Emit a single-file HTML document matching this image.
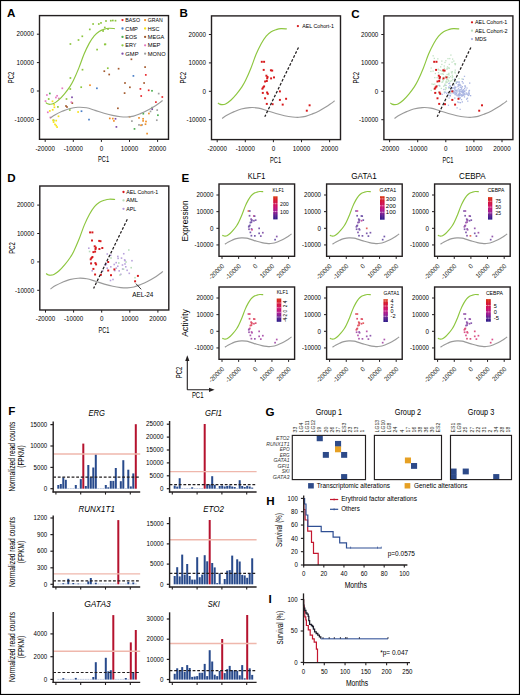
<!DOCTYPE html>
<html><head><meta charset="utf-8"><title>Figure</title>
<style>html,body{margin:0;padding:0;background:#fff;width:520px;height:695px;overflow:hidden;}svg{display:block;font-family:"Liberation Sans", sans-serif;}</style></head>
<body>
<svg width="520" height="695" viewBox="0 0 520 695" font-family='"Liberation Sans", sans-serif'>
<rect x="0" y="0" width="520" height="695" fill="#fff"/>
<g id="A">
<rect x="69.55" y="43.15" width="1.7" height="1.7" fill="#8dc63f"/>
<rect x="77.65" y="39.15" width="1.7" height="1.7" fill="#8dc63f"/>
<rect x="81.45" y="35.45" width="1.7" height="1.7" fill="#8dc63f"/>
<rect x="88.95" y="28.55" width="1.7" height="1.7" fill="#8dc63f"/>
<rect x="92.25" y="23.15" width="1.7" height="1.7" fill="#8dc63f"/>
<rect x="97.95" y="23.15" width="1.7" height="1.7" fill="#8dc63f"/>
<rect x="100.15" y="22.05" width="1.7" height="1.7" fill="#8dc63f"/>
<rect x="96.25" y="48.75" width="1.7" height="1.7" fill="#8dc63f"/>
<rect x="102.25" y="30.15" width="1.7" height="1.7" fill="#8dc63f"/>
<rect x="103.95" y="26.65" width="1.7" height="1.7" fill="#8dc63f"/>
<rect x="103.95" y="43.55" width="1.7" height="1.7" fill="#8dc63f"/>
<rect x="105.15" y="20.15" width="1.7" height="1.7" fill="#8dc63f"/>
<rect x="109.95" y="19.85" width="1.7" height="1.7" fill="#8dc63f"/>
<rect x="111.95" y="19.65" width="1.7" height="1.7" fill="#8dc63f"/>
<rect x="114.65" y="19.85" width="1.7" height="1.7" fill="#8dc63f"/>
<rect x="104.55" y="43.45" width="1.7" height="1.7" fill="#8dc63f"/>
<rect x="106.95" y="67.35" width="1.7" height="1.7" fill="#8dc63f"/>
<rect x="69.45" y="88.15" width="1.7" height="1.7" fill="#8dc63f"/>
<rect x="80.35" y="86.35" width="1.7" height="1.7" fill="#8dc63f"/>
<rect x="107.15" y="28.15" width="1.7" height="1.7" fill="#8dc63f"/>
<rect x="65.65" y="98.15" width="1.7" height="1.7" fill="#8dc63f"/>
<rect x="57.05" y="106.05" width="1.7" height="1.7" fill="#8dc63f"/>
<rect x="68.95" y="109.15" width="1.7" height="1.7" fill="#8dc63f"/>
<rect x="47.85" y="98.15" width="1.7" height="1.7" fill="#8dc63f"/>
<rect x="69.55" y="77.15" width="1.7" height="1.7" fill="#8dc63f"/>
<rect x="81.65" y="68.85" width="1.7" height="1.7" fill="#8dc63f"/>
<rect x="130.55" y="58.45" width="1.7" height="1.7" fill="#a35a2e"/>
<rect x="117.75" y="67.85" width="1.7" height="1.7" fill="#a35a2e"/>
<rect x="103.45" y="70.35" width="1.7" height="1.7" fill="#a35a2e"/>
<rect x="108.35" y="73.65" width="1.7" height="1.7" fill="#a35a2e"/>
<rect x="144.25" y="66.25" width="1.7" height="1.7" fill="#a35a2e"/>
<rect x="124.15" y="82.15" width="1.7" height="1.7" fill="#a35a2e"/>
<rect x="143.25" y="82.15" width="1.7" height="1.7" fill="#a35a2e"/>
<rect x="129.05" y="86.45" width="1.7" height="1.7" fill="#a35a2e"/>
<rect x="123.75" y="92.25" width="1.7" height="1.7" fill="#a35a2e"/>
<rect x="117.05" y="107.45" width="1.7" height="1.7" fill="#a35a2e"/>
<rect x="65.15" y="105.15" width="1.7" height="1.7" fill="#a35a2e"/>
<rect x="66.15" y="106.15" width="1.7" height="1.7" fill="#a35a2e"/>
<rect x="71.45" y="102.25" width="1.7" height="1.7" fill="#a35a2e"/>
<rect x="144.95" y="74.05" width="1.7" height="1.7" fill="#e8262b"/>
<rect x="139.55" y="88.05" width="1.7" height="1.7" fill="#e8262b"/>
<rect x="147.85" y="89.45" width="1.7" height="1.7" fill="#e8262b"/>
<rect x="140.35" y="95.15" width="1.7" height="1.7" fill="#e8262b"/>
<rect x="161.45" y="96.15" width="1.7" height="1.7" fill="#e8262b"/>
<rect x="155.05" y="101.25" width="1.7" height="1.7" fill="#e8262b"/>
<rect x="132.55" y="75.05" width="1.7" height="1.7" fill="#4a7fc8"/>
<rect x="96.05" y="87.45" width="1.7" height="1.7" fill="#4a7fc8"/>
<rect x="80.65" y="110.35" width="1.7" height="1.7" fill="#4a7fc8"/>
<rect x="88.15" y="118.75" width="1.7" height="1.7" fill="#4a7fc8"/>
<rect x="151.15" y="89.95" width="1.7" height="1.7" fill="#4caf50"/>
<rect x="48.95" y="92.65" width="1.7" height="1.7" fill="#4caf50"/>
<rect x="151.35" y="106.85" width="1.7" height="1.7" fill="#4caf50"/>
<rect x="142.45" y="112.85" width="1.7" height="1.7" fill="#4caf50"/>
<rect x="157.05" y="114.35" width="1.7" height="1.7" fill="#4caf50"/>
<rect x="133.65" y="128.05" width="1.7" height="1.7" fill="#4caf50"/>
<rect x="52.75" y="119.55" width="1.7" height="1.7" fill="#4caf50"/>
<rect x="157.85" y="92.75" width="1.7" height="1.7" fill="#a0a0a0"/>
<rect x="156.35" y="109.25" width="1.7" height="1.7" fill="#a0a0a0"/>
<rect x="149.65" y="110.55" width="1.7" height="1.7" fill="#a0a0a0"/>
<rect x="131.05" y="120.25" width="1.7" height="1.7" fill="#a0a0a0"/>
<rect x="138.15" y="124.05" width="1.7" height="1.7" fill="#a0a0a0"/>
<rect x="141.25" y="124.05" width="1.7" height="1.7" fill="#a0a0a0"/>
<rect x="155.95" y="119.35" width="1.7" height="1.7" fill="#a0a0a0"/>
<rect x="89.15" y="84.35" width="1.7" height="1.7" fill="#f0902a"/>
<rect x="148.05" y="112.65" width="1.7" height="1.7" fill="#f0902a"/>
<rect x="108.95" y="117.55" width="1.7" height="1.7" fill="#f0902a"/>
<rect x="111.95" y="117.75" width="1.7" height="1.7" fill="#f0902a"/>
<rect x="113.05" y="120.05" width="1.7" height="1.7" fill="#f0902a"/>
<rect x="128.75" y="115.95" width="1.7" height="1.7" fill="#f0902a"/>
<rect x="138.15" y="117.05" width="1.7" height="1.7" fill="#f0902a"/>
<rect x="142.25" y="117.95" width="1.7" height="1.7" fill="#f0902a"/>
<rect x="142.25" y="120.05" width="1.7" height="1.7" fill="#f0902a"/>
<rect x="145.15" y="120.65" width="1.7" height="1.7" fill="#f0902a"/>
<rect x="144.65" y="123.35" width="1.7" height="1.7" fill="#f0902a"/>
<rect x="140.15" y="124.45" width="1.7" height="1.7" fill="#f0902a"/>
<rect x="146.25" y="132.75" width="1.7" height="1.7" fill="#f0902a"/>
<rect x="71.15" y="96.45" width="1.7" height="1.7" fill="#7e4ca8"/>
<rect x="151.35" y="108.35" width="1.7" height="1.7" fill="#7e4ca8"/>
<rect x="114.65" y="117.95" width="1.7" height="1.7" fill="#7e4ca8"/>
<rect x="115.55" y="126.05" width="1.7" height="1.7" fill="#7e4ca8"/>
<rect x="61.45" y="87.45" width="1.7" height="1.7" fill="#e57ac0"/>
<rect x="46.05" y="94.15" width="1.7" height="1.7" fill="#e57ac0"/>
<rect x="56.25" y="94.95" width="1.7" height="1.7" fill="#e57ac0"/>
<rect x="55.05" y="96.65" width="1.7" height="1.7" fill="#e57ac0"/>
<rect x="57.95" y="97.65" width="1.7" height="1.7" fill="#e57ac0"/>
<rect x="44.65" y="100.25" width="1.7" height="1.7" fill="#e57ac0"/>
<rect x="70.55" y="101.35" width="1.7" height="1.7" fill="#e57ac0"/>
<rect x="46.95" y="111.45" width="1.7" height="1.7" fill="#e57ac0"/>
<rect x="49.55" y="116.65" width="1.7" height="1.7" fill="#e57ac0"/>
<rect x="51.65" y="100.45" width="1.7" height="1.7" fill="#f7e31a"/>
<rect x="53.35" y="103.95" width="1.7" height="1.7" fill="#f7e31a"/>
<rect x="53.55" y="106.45" width="1.7" height="1.7" fill="#f7e31a"/>
<rect x="48.95" y="110.05" width="1.7" height="1.7" fill="#f7e31a"/>
<rect x="51.85" y="108.95" width="1.7" height="1.7" fill="#f7e31a"/>
<rect x="77.25" y="111.15" width="1.7" height="1.7" fill="#f7e31a"/>
<rect x="57.65" y="115.45" width="1.7" height="1.7" fill="#f7e31a"/>
<rect x="52.35" y="119.35" width="1.7" height="1.7" fill="#f7e31a"/>
<rect x="55.35" y="119.75" width="1.7" height="1.7" fill="#f7e31a"/>
<rect x="52.75" y="121.25" width="1.7" height="1.7" fill="#f7e31a"/>
<rect x="54.15" y="123.55" width="1.7" height="1.7" fill="#f7e31a"/>
<rect x="55.35" y="124.75" width="1.7" height="1.7" fill="#f7e31a"/>
<rect x="56.25" y="126.25" width="1.7" height="1.7" fill="#f7e31a"/>
<path d="M45.8,102.6 C46.1,102.8 46.88,103.52 47.6,103.8 C48.32,104.08 49.1,104.33 50.1,104.3 C51.1,104.27 52.15,104.33 53.6,103.6 C55.05,102.87 56.98,101.53 58.8,99.9 C60.62,98.27 62.65,96.02 64.5,93.8 C66.35,91.58 68.4,88.85 69.9,86.6 C71.4,84.35 72,83.42 73.5,80.3 C75,77.18 77.13,72.28 78.9,67.9 C80.67,63.52 82.38,58.08 84.1,54 C85.82,49.92 87.52,46.43 89.2,43.4 C90.88,40.37 92.53,37.8 94.2,35.8 C95.87,33.8 97.53,32.48 99.2,31.4 C100.87,30.32 102.57,29.82 104.2,29.3 C105.83,28.78 107.23,28.42 109,28.3 C110.77,28.18 113.83,28.55 114.8,28.6" fill="none" stroke="#8dc63f" stroke-width="1.15"/>
<path d="M50.1,118.1 C50.97,117.53 53.28,115.83 55.3,114.7 C57.32,113.57 59.88,112.3 62.2,111.3 C64.52,110.3 66.6,109.37 69.2,108.7 C71.8,108.03 74.92,107.45 77.8,107.3 C80.68,107.15 83.62,107.28 86.5,107.8 C89.38,108.32 92.18,109.5 95.1,110.4 C98.02,111.3 101.1,112.37 104,113.2 C106.9,114.03 109.75,114.82 112.5,115.4 C115.25,115.98 118.08,116.43 120.5,116.7 C122.92,116.97 124.82,117.1 127,117 C129.18,116.9 131.37,116.67 133.6,116.1 C135.83,115.53 138.15,114.52 140.4,113.6 C142.65,112.68 144.87,111.73 147.1,110.6 C149.33,109.47 151.78,108.05 153.8,106.8 C155.82,105.55 157.73,104.15 159.2,103.1 C160.67,102.05 162.03,100.93 162.6,100.5" fill="none" stroke="#9a9a9a" stroke-width="1.15"/>
<line x1="36.9" y1="34.2" x2="39.5" y2="34.2" stroke="#231f20" stroke-width="1"/>
<text x="33.9" y="36.47" font-size="6.6" text-anchor="end" textLength="17.3" lengthAdjust="spacingAndGlyphs">20000</text>
<line x1="36.9" y1="62.6" x2="39.5" y2="62.6" stroke="#231f20" stroke-width="1"/>
<text x="33.9" y="64.87" font-size="6.6" text-anchor="end" textLength="17.3" lengthAdjust="spacingAndGlyphs">10000</text>
<line x1="36.9" y1="91" x2="39.5" y2="91" stroke="#231f20" stroke-width="1"/>
<text x="33.9" y="93.27" font-size="6.6" text-anchor="end" textLength="3.5" lengthAdjust="spacingAndGlyphs">0</text>
<line x1="36.9" y1="119.4" x2="39.5" y2="119.4" stroke="#231f20" stroke-width="1"/>
<text x="33.9" y="121.67" font-size="6.6" text-anchor="end" textLength="19.3" lengthAdjust="spacingAndGlyphs">-10000</text>
<line x1="45.2" y1="139.3" x2="45.2" y2="141.9" stroke="#231f20" stroke-width="1"/>
<text x="45.2" y="150.57" font-size="6.6" text-anchor="middle" textLength="19.3" lengthAdjust="spacingAndGlyphs">-20000</text>
<line x1="73.3" y1="139.3" x2="73.3" y2="141.9" stroke="#231f20" stroke-width="1"/>
<text x="73.3" y="150.57" font-size="6.6" text-anchor="middle" textLength="19.3" lengthAdjust="spacingAndGlyphs">-10000</text>
<line x1="101.4" y1="139.3" x2="101.4" y2="141.9" stroke="#231f20" stroke-width="1"/>
<text x="101.4" y="150.57" font-size="6.6" text-anchor="middle" textLength="3.5" lengthAdjust="spacingAndGlyphs">0</text>
<line x1="129.5" y1="139.3" x2="129.5" y2="141.9" stroke="#231f20" stroke-width="1"/>
<text x="129.5" y="150.57" font-size="6.6" text-anchor="middle" textLength="17.3" lengthAdjust="spacingAndGlyphs">10000</text>
<line x1="157.6" y1="139.3" x2="157.6" y2="141.9" stroke="#231f20" stroke-width="1"/>
<text x="157.6" y="150.57" font-size="6.6" text-anchor="middle" textLength="17.3" lengthAdjust="spacingAndGlyphs">20000</text>
<rect x="39.5" y="15.6" width="129" height="123.7" fill="none" stroke="#231f20" stroke-width="1.4"/>
<text x="103.6" y="162.3" font-size="9" text-anchor="middle" textLength="11" lengthAdjust="spacingAndGlyphs">PC1</text>
<text x="11.2" y="80.55" font-size="9" text-anchor="middle" textLength="11.4" lengthAdjust="spacingAndGlyphs" transform="rotate(-90 11.2 77.45)">PC2</text>
<text x="6.9" y="16.5" font-size="11.6" font-weight="bold" fill="#000">A</text>
<circle cx="122.5" cy="20.1" r="1.15" fill="#e8262b"/>
<text x="125.3" y="22.13" font-size="5.9" textLength="14.7" lengthAdjust="spacingAndGlyphs">BASO</text>
<circle cx="122.5" cy="28.5" r="1.15" fill="#4a7fc8"/>
<text x="125.3" y="30.53" font-size="5.9" textLength="12.6" lengthAdjust="spacingAndGlyphs">CMP</text>
<circle cx="122.5" cy="36.9" r="1.15" fill="#4caf50"/>
<text x="125.3" y="38.93" font-size="5.9" textLength="11.8" lengthAdjust="spacingAndGlyphs">EOS</text>
<circle cx="122.5" cy="45.3" r="1.15" fill="#8dc63f"/>
<text x="125.3" y="47.33" font-size="5.9" textLength="11.2" lengthAdjust="spacingAndGlyphs">ERY</text>
<circle cx="122.5" cy="53.7" r="1.15" fill="#7e4ca8"/>
<text x="125.3" y="55.73" font-size="5.9" textLength="13.2" lengthAdjust="spacingAndGlyphs">GMP</text>
<circle cx="145.1" cy="20.1" r="1.15" fill="#f0902a"/>
<text x="147.8" y="22.13" font-size="5.9" textLength="15" lengthAdjust="spacingAndGlyphs">GRAN</text>
<circle cx="145.1" cy="28.5" r="1.15" fill="#f7e31a"/>
<text x="147.8" y="30.53" font-size="5.9" textLength="11.6" lengthAdjust="spacingAndGlyphs">HSC</text>
<circle cx="145.1" cy="36.9" r="1.15" fill="#a35a2e"/>
<text x="147.8" y="38.93" font-size="5.9" textLength="16.4" lengthAdjust="spacingAndGlyphs">MEGA</text>
<circle cx="145.1" cy="45.3" r="1.15" fill="#e57ac0"/>
<text x="147.8" y="47.33" font-size="5.9" textLength="12.6" lengthAdjust="spacingAndGlyphs">MEP</text>
<circle cx="145.1" cy="53.7" r="1.15" fill="#a0a0a0"/>
<text x="147.8" y="55.73" font-size="5.9" textLength="17.8" lengthAdjust="spacingAndGlyphs">MONO</text>
</g>
<g id="B">
<path d="M217.8,102.9 C218.1,103.1 218.88,103.82 219.6,104.1 C220.32,104.38 221.1,104.63 222.1,104.6 C223.1,104.57 224.15,104.63 225.6,103.9 C227.05,103.17 228.98,101.83 230.8,100.2 C232.62,98.57 234.65,96.32 236.5,94.1 C238.35,91.88 240.4,89.15 241.9,86.9 C243.4,84.65 244,83.72 245.5,80.6 C247,77.48 249.13,72.58 250.9,68.2 C252.67,63.82 254.38,58.38 256.1,54.3 C257.82,50.22 259.52,46.73 261.2,43.7 C262.88,40.67 264.53,38.1 266.2,36.1 C267.87,34.1 269.53,32.78 271.2,31.7 C272.87,30.62 274.57,30.12 276.2,29.6 C277.83,29.08 279.23,28.72 281,28.6 C282.77,28.48 285.83,28.85 286.8,28.9" fill="none" stroke="#8dc63f" stroke-width="1.15"/>
<path d="M222.1,118.4 C222.97,117.83 225.28,116.13 227.3,115 C229.32,113.87 231.88,112.6 234.2,111.6 C236.52,110.6 238.6,109.67 241.2,109 C243.8,108.33 246.92,107.75 249.8,107.6 C252.68,107.45 255.62,107.58 258.5,108.1 C261.38,108.62 264.18,109.8 267.1,110.7 C270.02,111.6 273.1,112.67 276,113.5 C278.9,114.33 281.75,115.12 284.5,115.7 C287.25,116.28 290.08,116.73 292.5,117 C294.92,117.27 296.82,117.4 299,117.3 C301.18,117.2 303.37,116.97 305.6,116.4 C307.83,115.83 310.15,114.82 312.4,113.9 C314.65,112.98 316.87,112.03 319.1,110.9 C321.33,109.77 323.78,108.35 325.8,107.1 C327.82,105.85 329.73,104.45 331.2,103.4 C332.67,102.35 334.03,101.23 334.6,100.8" fill="none" stroke="#9a9a9a" stroke-width="1.15"/>
<rect x="260.82" y="60.82" width="1.96" height="1.96" fill="#d7191c"/>
<rect x="263.12" y="60.82" width="1.96" height="1.96" fill="#d7191c"/>
<rect x="262.72" y="68.92" width="1.96" height="1.96" fill="#d7191c"/>
<rect x="269.92" y="69.32" width="1.96" height="1.96" fill="#d7191c"/>
<rect x="271.22" y="69.62" width="1.96" height="1.96" fill="#d7191c"/>
<rect x="265.42" y="74.72" width="1.96" height="1.96" fill="#d7191c"/>
<rect x="266.52" y="76.02" width="1.96" height="1.96" fill="#d7191c"/>
<rect x="266.22" y="77.42" width="1.96" height="1.96" fill="#d7191c"/>
<rect x="273.02" y="76.42" width="1.96" height="1.96" fill="#d7191c"/>
<rect x="270.12" y="77.42" width="1.96" height="1.96" fill="#d7191c"/>
<rect x="264.12" y="80.52" width="1.96" height="1.96" fill="#d7191c"/>
<rect x="265.82" y="80.02" width="1.96" height="1.96" fill="#d7191c"/>
<rect x="263.12" y="85.42" width="1.96" height="1.96" fill="#d7191c"/>
<rect x="262.22" y="86.42" width="1.96" height="1.96" fill="#d7191c"/>
<rect x="261.42" y="87.72" width="1.96" height="1.96" fill="#d7191c"/>
<rect x="261.82" y="91.92" width="1.96" height="1.96" fill="#d7191c"/>
<rect x="266.12" y="91.52" width="1.96" height="1.96" fill="#d7191c"/>
<rect x="266.82" y="92.82" width="1.96" height="1.96" fill="#d7191c"/>
<rect x="278.92" y="90.42" width="1.96" height="1.96" fill="#d7191c"/>
<rect x="264.12" y="97.32" width="1.96" height="1.96" fill="#d7191c"/>
<rect x="278.92" y="98.92" width="1.96" height="1.96" fill="#d7191c"/>
<rect x="285.12" y="97.82" width="1.96" height="1.96" fill="#d7191c"/>
<rect x="265.82" y="102.92" width="1.96" height="1.96" fill="#d7191c"/>
<rect x="271.62" y="103.22" width="1.96" height="1.96" fill="#d7191c"/>
<rect x="281.72" y="103.62" width="1.96" height="1.96" fill="#d7191c"/>
<rect x="308.62" y="104.32" width="1.96" height="1.96" fill="#d7191c"/>
<rect x="305.82" y="109.72" width="1.96" height="1.96" fill="#d7191c"/>
<line x1="298.5" y1="47.4" x2="264.8" y2="116.7" stroke="#231f20" stroke-width="1.25" stroke-dasharray="2.7 1.7"/>
<line x1="208.9" y1="34.5" x2="211.5" y2="34.5" stroke="#231f20" stroke-width="1"/>
<text x="205.9" y="36.77" font-size="6.6" text-anchor="end" textLength="17.3" lengthAdjust="spacingAndGlyphs">20000</text>
<line x1="208.9" y1="62.9" x2="211.5" y2="62.9" stroke="#231f20" stroke-width="1"/>
<text x="205.9" y="65.17" font-size="6.6" text-anchor="end" textLength="17.3" lengthAdjust="spacingAndGlyphs">10000</text>
<line x1="208.9" y1="91.3" x2="211.5" y2="91.3" stroke="#231f20" stroke-width="1"/>
<text x="205.9" y="93.57" font-size="6.6" text-anchor="end" textLength="3.5" lengthAdjust="spacingAndGlyphs">0</text>
<line x1="208.9" y1="119.7" x2="211.5" y2="119.7" stroke="#231f20" stroke-width="1"/>
<text x="205.9" y="121.97" font-size="6.6" text-anchor="end" textLength="19.3" lengthAdjust="spacingAndGlyphs">-10000</text>
<line x1="217.2" y1="139.6" x2="217.2" y2="142.2" stroke="#231f20" stroke-width="1"/>
<text x="217.2" y="150.87" font-size="6.6" text-anchor="middle" textLength="19.3" lengthAdjust="spacingAndGlyphs">-20000</text>
<line x1="245.3" y1="139.6" x2="245.3" y2="142.2" stroke="#231f20" stroke-width="1"/>
<text x="245.3" y="150.87" font-size="6.6" text-anchor="middle" textLength="19.3" lengthAdjust="spacingAndGlyphs">-10000</text>
<line x1="273.4" y1="139.6" x2="273.4" y2="142.2" stroke="#231f20" stroke-width="1"/>
<text x="273.4" y="150.87" font-size="6.6" text-anchor="middle" textLength="3.5" lengthAdjust="spacingAndGlyphs">0</text>
<line x1="301.5" y1="139.6" x2="301.5" y2="142.2" stroke="#231f20" stroke-width="1"/>
<text x="301.5" y="150.87" font-size="6.6" text-anchor="middle" textLength="17.3" lengthAdjust="spacingAndGlyphs">10000</text>
<line x1="329.6" y1="139.6" x2="329.6" y2="142.2" stroke="#231f20" stroke-width="1"/>
<text x="329.6" y="150.87" font-size="6.6" text-anchor="middle" textLength="17.3" lengthAdjust="spacingAndGlyphs">20000</text>
<rect x="211.5" y="15.9" width="129" height="123.7" fill="none" stroke="#231f20" stroke-width="1.4"/>
<text x="275.6" y="162.6" font-size="9" text-anchor="middle" textLength="11" lengthAdjust="spacingAndGlyphs">PC1</text>
<text x="183.2" y="80.85" font-size="9" text-anchor="middle" textLength="11.4" lengthAdjust="spacingAndGlyphs" transform="rotate(-90 183.2 77.75)">PC2</text>
<text x="179.6" y="17.3" font-size="11.6" font-weight="bold" fill="#000">B</text>
<circle cx="297.9" cy="26.1" r="1.15" fill="#d7191c"/>
<text x="302.3" y="28.13" font-size="5.9" textLength="31.7" lengthAdjust="spacingAndGlyphs">AEL Cohort-1</text>
</g>
<g id="C">
<path d="M390.2,102.9 C390.5,103.1 391.28,103.82 392,104.1 C392.72,104.38 393.5,104.63 394.5,104.6 C395.5,104.57 396.55,104.63 398,103.9 C399.45,103.17 401.38,101.83 403.2,100.2 C405.02,98.57 407.05,96.32 408.9,94.1 C410.75,91.88 412.8,89.15 414.3,86.9 C415.8,84.65 416.4,83.72 417.9,80.6 C419.4,77.48 421.53,72.58 423.3,68.2 C425.07,63.82 426.78,58.38 428.5,54.3 C430.22,50.22 431.92,46.73 433.6,43.7 C435.28,40.67 436.93,38.1 438.6,36.1 C440.27,34.1 441.93,32.78 443.6,31.7 C445.27,30.62 446.97,30.12 448.6,29.6 C450.23,29.08 451.63,28.72 453.4,28.6 C455.17,28.48 458.23,28.85 459.2,28.9" fill="none" stroke="#8dc63f" stroke-width="1.15"/>
<path d="M394.5,118.4 C395.37,117.83 397.68,116.13 399.7,115 C401.72,113.87 404.28,112.6 406.6,111.6 C408.92,110.6 411,109.67 413.6,109 C416.2,108.33 419.32,107.75 422.2,107.6 C425.08,107.45 428.02,107.58 430.9,108.1 C433.78,108.62 436.58,109.8 439.5,110.7 C442.42,111.6 445.5,112.67 448.4,113.5 C451.3,114.33 454.15,115.12 456.9,115.7 C459.65,116.28 462.48,116.73 464.9,117 C467.32,117.27 469.22,117.4 471.4,117.3 C473.58,117.2 475.77,116.97 478,116.4 C480.23,115.83 482.55,114.82 484.8,113.9 C487.05,112.98 489.27,112.03 491.5,110.9 C493.73,109.77 496.18,108.35 498.2,107.1 C500.22,105.85 502.13,104.45 503.6,103.4 C505.07,102.35 506.43,101.23 507,100.8" fill="none" stroke="#9a9a9a" stroke-width="1.15"/>
<rect x="442.56" y="79.98" width="1.3" height="1.3" fill="#c2e2c4"/>
<rect x="442.77" y="70.88" width="1.3" height="1.3" fill="#c2e2c4"/>
<rect x="437.84" y="72" width="1.3" height="1.3" fill="#c2e2c4"/>
<rect x="452.13" y="79.02" width="1.3" height="1.3" fill="#c2e2c4"/>
<rect x="451.61" y="77.09" width="1.3" height="1.3" fill="#c2e2c4"/>
<rect x="447.11" y="76.39" width="1.3" height="1.3" fill="#c2e2c4"/>
<rect x="432.69" y="83.76" width="1.3" height="1.3" fill="#c2e2c4"/>
<rect x="447.89" y="79.84" width="1.3" height="1.3" fill="#c2e2c4"/>
<rect x="432.51" y="55.17" width="1.3" height="1.3" fill="#c2e2c4"/>
<rect x="438.12" y="69.2" width="1.3" height="1.3" fill="#c2e2c4"/>
<rect x="446.49" y="73.84" width="1.3" height="1.3" fill="#c2e2c4"/>
<rect x="448" y="67.29" width="1.3" height="1.3" fill="#c2e2c4"/>
<rect x="446.51" y="78.69" width="1.3" height="1.3" fill="#c2e2c4"/>
<rect x="439.72" y="93.24" width="1.3" height="1.3" fill="#c2e2c4"/>
<rect x="448.25" y="87.52" width="1.3" height="1.3" fill="#c2e2c4"/>
<rect x="440.01" y="66.22" width="1.3" height="1.3" fill="#c2e2c4"/>
<rect x="441.94" y="73.18" width="1.3" height="1.3" fill="#c2e2c4"/>
<rect x="448.77" y="77.08" width="1.3" height="1.3" fill="#c2e2c4"/>
<rect x="441.22" y="63.82" width="1.3" height="1.3" fill="#c2e2c4"/>
<rect x="440.71" y="87.78" width="1.3" height="1.3" fill="#c2e2c4"/>
<rect x="438.69" y="77.04" width="1.3" height="1.3" fill="#c2e2c4"/>
<rect x="447.34" y="57.96" width="1.3" height="1.3" fill="#c2e2c4"/>
<rect x="444.69" y="88.72" width="1.3" height="1.3" fill="#c2e2c4"/>
<rect x="430.25" y="70.81" width="1.3" height="1.3" fill="#c2e2c4"/>
<rect x="443.61" y="65.36" width="1.3" height="1.3" fill="#c2e2c4"/>
<rect x="447.83" y="73.66" width="1.3" height="1.3" fill="#c2e2c4"/>
<rect x="434.1" y="83.46" width="1.3" height="1.3" fill="#c2e2c4"/>
<rect x="449.04" y="84.75" width="1.3" height="1.3" fill="#c2e2c4"/>
<rect x="454.43" y="78.33" width="1.3" height="1.3" fill="#c2e2c4"/>
<rect x="445.18" y="60.06" width="1.3" height="1.3" fill="#c2e2c4"/>
<rect x="448.66" y="67.62" width="1.3" height="1.3" fill="#c2e2c4"/>
<rect x="441.18" y="60.44" width="1.3" height="1.3" fill="#c2e2c4"/>
<rect x="437.58" y="68.51" width="1.3" height="1.3" fill="#c2e2c4"/>
<rect x="434.15" y="76.98" width="1.3" height="1.3" fill="#c2e2c4"/>
<rect x="454.45" y="80.71" width="1.3" height="1.3" fill="#c2e2c4"/>
<rect x="446.85" y="66.25" width="1.3" height="1.3" fill="#c2e2c4"/>
<rect x="436.51" y="85.1" width="1.3" height="1.3" fill="#c2e2c4"/>
<rect x="452.06" y="76.08" width="1.3" height="1.3" fill="#c2e2c4"/>
<rect x="446.07" y="79.13" width="1.3" height="1.3" fill="#c2e2c4"/>
<rect x="455.51" y="81.16" width="1.3" height="1.3" fill="#c2e2c4"/>
<rect x="447.98" y="80.38" width="1.3" height="1.3" fill="#c2e2c4"/>
<rect x="433.37" y="88.45" width="1.3" height="1.3" fill="#c2e2c4"/>
<rect x="451.04" y="80.18" width="1.3" height="1.3" fill="#c2e2c4"/>
<rect x="430.53" y="67.38" width="1.3" height="1.3" fill="#c2e2c4"/>
<rect x="450.25" y="54.43" width="1.3" height="1.3" fill="#c2e2c4"/>
<rect x="443.06" y="85.56" width="1.3" height="1.3" fill="#c2e2c4"/>
<rect x="435.17" y="92.06" width="1.3" height="1.3" fill="#c2e2c4"/>
<rect x="448.21" y="72.7" width="1.3" height="1.3" fill="#c2e2c4"/>
<rect x="446.62" y="81.5" width="1.3" height="1.3" fill="#c2e2c4"/>
<rect x="445.19" y="86.95" width="1.3" height="1.3" fill="#c2e2c4"/>
<rect x="439.72" y="69.79" width="1.3" height="1.3" fill="#c2e2c4"/>
<rect x="451.64" y="74.64" width="1.3" height="1.3" fill="#c2e2c4"/>
<rect x="438.19" y="84.76" width="1.3" height="1.3" fill="#c2e2c4"/>
<rect x="454.61" y="69.46" width="1.3" height="1.3" fill="#c2e2c4"/>
<rect x="434.69" y="72.87" width="1.3" height="1.3" fill="#c2e2c4"/>
<rect x="443.31" y="71.07" width="1.3" height="1.3" fill="#c2e2c4"/>
<rect x="454.18" y="63.05" width="1.3" height="1.3" fill="#c2e2c4"/>
<rect x="453.17" y="60.4" width="1.3" height="1.3" fill="#c2e2c4"/>
<rect x="438.84" y="81.3" width="1.3" height="1.3" fill="#c2e2c4"/>
<rect x="452.25" y="83.8" width="1.3" height="1.3" fill="#c2e2c4"/>
<rect x="446.77" y="75.92" width="1.3" height="1.3" fill="#c2e2c4"/>
<rect x="445.42" y="80.68" width="1.3" height="1.3" fill="#c2e2c4"/>
<rect x="443.12" y="77.4" width="1.3" height="1.3" fill="#c2e2c4"/>
<rect x="448.36" y="74.36" width="1.3" height="1.3" fill="#c2e2c4"/>
<rect x="449.7" y="80.57" width="1.3" height="1.3" fill="#c2e2c4"/>
<rect x="458.42" y="77.92" width="1.3" height="1.3" fill="#c2e2c4"/>
<rect x="441.36" y="70.25" width="1.3" height="1.3" fill="#c2e2c4"/>
<rect x="444.26" y="84.51" width="1.3" height="1.3" fill="#c2e2c4"/>
<rect x="441.99" y="78.59" width="1.3" height="1.3" fill="#c2e2c4"/>
<rect x="436.48" y="77.03" width="1.3" height="1.3" fill="#c2e2c4"/>
<rect x="447.14" y="76.97" width="1.3" height="1.3" fill="#c2e2c4"/>
<rect x="441.33" y="81.56" width="1.3" height="1.3" fill="#c2e2c4"/>
<rect x="446.32" y="68.61" width="1.3" height="1.3" fill="#c2e2c4"/>
<rect x="461.36" y="78.26" width="1.3" height="1.3" fill="#c2e2c4"/>
<rect x="440.47" y="73.26" width="1.3" height="1.3" fill="#c2e2c4"/>
<rect x="442.77" y="73.66" width="1.3" height="1.3" fill="#c2e2c4"/>
<rect x="451.41" y="61.5" width="1.3" height="1.3" fill="#c2e2c4"/>
<rect x="443.88" y="84.84" width="1.3" height="1.3" fill="#c2e2c4"/>
<rect x="450.34" y="90.75" width="1.3" height="1.3" fill="#c2e2c4"/>
<rect x="432.44" y="70.46" width="1.3" height="1.3" fill="#c2e2c4"/>
<rect x="441.96" y="81.21" width="1.3" height="1.3" fill="#c2e2c4"/>
<rect x="451.97" y="58.43" width="1.3" height="1.3" fill="#c2e2c4"/>
<rect x="449.13" y="57.94" width="1.3" height="1.3" fill="#c2e2c4"/>
<rect x="445.58" y="87.49" width="1.3" height="1.3" fill="#c2e2c4"/>
<rect x="443.3" y="76.45" width="1.3" height="1.3" fill="#c2e2c4"/>
<rect x="449.93" y="75.91" width="1.3" height="1.3" fill="#c2e2c4"/>
<rect x="443.73" y="91.22" width="1.3" height="1.3" fill="#c2e2c4"/>
<rect x="451.69" y="71.12" width="1.3" height="1.3" fill="#c2e2c4"/>
<rect x="450.75" y="71.43" width="1.3" height="1.3" fill="#c2e2c4"/>
<rect x="445.28" y="82.11" width="1.3" height="1.3" fill="#c2e2c4"/>
<rect x="445.91" y="81.38" width="1.3" height="1.3" fill="#c2e2c4"/>
<rect x="433.66" y="57.75" width="1.3" height="1.3" fill="#c2e2c4"/>
<rect x="448.65" y="63.76" width="1.3" height="1.3" fill="#c2e2c4"/>
<rect x="437.16" y="58.18" width="1.3" height="1.3" fill="#c2e2c4"/>
<rect x="453.21" y="82.56" width="1.3" height="1.3" fill="#c2e2c4"/>
<rect x="454.66" y="64.03" width="1.3" height="1.3" fill="#c2e2c4"/>
<rect x="444.36" y="61.81" width="1.3" height="1.3" fill="#c2e2c4"/>
<rect x="449.71" y="91.83" width="1.3" height="1.3" fill="#c2e2c4"/>
<rect x="438.12" y="91.51" width="1.3" height="1.3" fill="#c2e2c4"/>
<rect x="451.27" y="72.39" width="1.3" height="1.3" fill="#c2e2c4"/>
<rect x="430.55" y="89.82" width="1.3" height="1.3" fill="#c2e2c4"/>
<rect x="443.68" y="67.72" width="1.3" height="1.3" fill="#c2e2c4"/>
<rect x="447.15" y="78.86" width="1.3" height="1.3" fill="#c2e2c4"/>
<rect x="454.84" y="63.13" width="1.3" height="1.3" fill="#c2e2c4"/>
<rect x="452.3" y="90.71" width="1.3" height="1.3" fill="#c2e2c4"/>
<rect x="454.52" y="72.36" width="1.3" height="1.3" fill="#c2e2c4"/>
<rect x="439.14" y="85.55" width="1.3" height="1.3" fill="#c2e2c4"/>
<rect x="445.16" y="75.72" width="1.3" height="1.3" fill="#c2e2c4"/>
<rect x="454.32" y="71.45" width="1.3" height="1.3" fill="#c2e2c4"/>
<rect x="431.37" y="83.36" width="1.3" height="1.3" fill="#c2e2c4"/>
<rect x="446.57" y="67.63" width="1.3" height="1.3" fill="#c2e2c4"/>
<rect x="444.28" y="83.51" width="1.3" height="1.3" fill="#c2e2c4"/>
<rect x="444.9" y="88.94" width="1.3" height="1.3" fill="#c2e2c4"/>
<rect x="459.04" y="95.03" width="1.3" height="1.3" fill="#a6b2e0"/>
<rect x="466.81" y="97.59" width="1.3" height="1.3" fill="#a6b2e0"/>
<rect x="455.99" y="94.31" width="1.3" height="1.3" fill="#a6b2e0"/>
<rect x="449.97" y="85.47" width="1.3" height="1.3" fill="#a6b2e0"/>
<rect x="449.54" y="95.16" width="1.3" height="1.3" fill="#a6b2e0"/>
<rect x="453.19" y="90.29" width="1.3" height="1.3" fill="#a6b2e0"/>
<rect x="458.39" y="90.22" width="1.3" height="1.3" fill="#a6b2e0"/>
<rect x="456.39" y="91.4" width="1.3" height="1.3" fill="#a6b2e0"/>
<rect x="468.31" y="90.55" width="1.3" height="1.3" fill="#a6b2e0"/>
<rect x="462" y="94.85" width="1.3" height="1.3" fill="#a6b2e0"/>
<rect x="458.36" y="84.68" width="1.3" height="1.3" fill="#a6b2e0"/>
<rect x="456.57" y="95.18" width="1.3" height="1.3" fill="#a6b2e0"/>
<rect x="451.12" y="87.66" width="1.3" height="1.3" fill="#a6b2e0"/>
<rect x="464.39" y="93.92" width="1.3" height="1.3" fill="#a6b2e0"/>
<rect x="459.39" y="93.97" width="1.3" height="1.3" fill="#a6b2e0"/>
<rect x="460.18" y="85.04" width="1.3" height="1.3" fill="#a6b2e0"/>
<rect x="451.53" y="87.47" width="1.3" height="1.3" fill="#a6b2e0"/>
<rect x="463.96" y="87.81" width="1.3" height="1.3" fill="#a6b2e0"/>
<rect x="454.84" y="86.88" width="1.3" height="1.3" fill="#a6b2e0"/>
<rect x="451.69" y="89.82" width="1.3" height="1.3" fill="#a6b2e0"/>
<rect x="453.45" y="91.99" width="1.3" height="1.3" fill="#a6b2e0"/>
<rect x="447.55" y="91.83" width="1.3" height="1.3" fill="#a6b2e0"/>
<rect x="456.14" y="81.61" width="1.3" height="1.3" fill="#a6b2e0"/>
<rect x="462.97" y="89.11" width="1.3" height="1.3" fill="#a6b2e0"/>
<rect x="448.2" y="86.41" width="1.3" height="1.3" fill="#a6b2e0"/>
<rect x="460.81" y="88.29" width="1.3" height="1.3" fill="#a6b2e0"/>
<rect x="463.25" y="93.71" width="1.3" height="1.3" fill="#a6b2e0"/>
<rect x="462.68" y="91.82" width="1.3" height="1.3" fill="#a6b2e0"/>
<rect x="466.02" y="93.32" width="1.3" height="1.3" fill="#a6b2e0"/>
<rect x="461.61" y="80.97" width="1.3" height="1.3" fill="#a6b2e0"/>
<rect x="463.83" y="96.24" width="1.3" height="1.3" fill="#a6b2e0"/>
<rect x="457.87" y="88.24" width="1.3" height="1.3" fill="#a6b2e0"/>
<rect x="469.05" y="82.44" width="1.3" height="1.3" fill="#a6b2e0"/>
<rect x="461.69" y="101.26" width="1.3" height="1.3" fill="#a6b2e0"/>
<rect x="454.71" y="93.45" width="1.3" height="1.3" fill="#a6b2e0"/>
<rect x="468.78" y="89.81" width="1.3" height="1.3" fill="#a6b2e0"/>
<rect x="462.16" y="94.41" width="1.3" height="1.3" fill="#a6b2e0"/>
<rect x="454.82" y="89.95" width="1.3" height="1.3" fill="#a6b2e0"/>
<rect x="460.81" y="94.06" width="1.3" height="1.3" fill="#a6b2e0"/>
<rect x="459.18" y="89.47" width="1.3" height="1.3" fill="#a6b2e0"/>
<rect x="454.27" y="88.73" width="1.3" height="1.3" fill="#a6b2e0"/>
<rect x="463.81" y="90.81" width="1.3" height="1.3" fill="#a6b2e0"/>
<rect x="455.08" y="86.56" width="1.3" height="1.3" fill="#a6b2e0"/>
<rect x="462.54" y="78.68" width="1.3" height="1.3" fill="#a6b2e0"/>
<rect x="462.46" y="92.51" width="1.3" height="1.3" fill="#a6b2e0"/>
<rect x="467.77" y="92.27" width="1.3" height="1.3" fill="#a6b2e0"/>
<rect x="459.01" y="92.7" width="1.3" height="1.3" fill="#a6b2e0"/>
<rect x="449.63" y="95" width="1.3" height="1.3" fill="#a6b2e0"/>
<rect x="460.97" y="87.19" width="1.3" height="1.3" fill="#a6b2e0"/>
<rect x="465.98" y="98.49" width="1.3" height="1.3" fill="#a6b2e0"/>
<rect x="452.34" y="87.35" width="1.3" height="1.3" fill="#a6b2e0"/>
<rect x="460.81" y="91.18" width="1.3" height="1.3" fill="#a6b2e0"/>
<rect x="457.36" y="85.97" width="1.3" height="1.3" fill="#a6b2e0"/>
<rect x="469.95" y="95.02" width="1.3" height="1.3" fill="#a6b2e0"/>
<rect x="453.38" y="84.3" width="1.3" height="1.3" fill="#a6b2e0"/>
<rect x="467.87" y="94.8" width="1.3" height="1.3" fill="#a6b2e0"/>
<rect x="468.45" y="94" width="1.3" height="1.3" fill="#a6b2e0"/>
<rect x="454.99" y="91.52" width="1.3" height="1.3" fill="#a6b2e0"/>
<rect x="448.55" y="86.98" width="1.3" height="1.3" fill="#a6b2e0"/>
<rect x="459.06" y="92.7" width="1.3" height="1.3" fill="#a6b2e0"/>
<rect x="455.71" y="89.79" width="1.3" height="1.3" fill="#a6b2e0"/>
<rect x="461.64" y="92.05" width="1.3" height="1.3" fill="#a6b2e0"/>
<rect x="462.54" y="91.29" width="1.3" height="1.3" fill="#a6b2e0"/>
<rect x="457.73" y="93.9" width="1.3" height="1.3" fill="#a6b2e0"/>
<rect x="459.6" y="86.63" width="1.3" height="1.3" fill="#a6b2e0"/>
<rect x="456.22" y="90.35" width="1.3" height="1.3" fill="#a6b2e0"/>
<rect x="458.8" y="91.06" width="1.3" height="1.3" fill="#a6b2e0"/>
<rect x="459.35" y="91.14" width="1.3" height="1.3" fill="#a6b2e0"/>
<rect x="458.68" y="84.69" width="1.3" height="1.3" fill="#a6b2e0"/>
<rect x="461.46" y="95.09" width="1.3" height="1.3" fill="#a6b2e0"/>
<rect x="461.52" y="89.5" width="1.3" height="1.3" fill="#a6b2e0"/>
<rect x="461.58" y="86" width="1.3" height="1.3" fill="#a6b2e0"/>
<rect x="449.87" y="90.62" width="1.3" height="1.3" fill="#a6b2e0"/>
<rect x="454.7" y="93.68" width="1.3" height="1.3" fill="#a6b2e0"/>
<rect x="453.93" y="78.52" width="1.3" height="1.3" fill="#a6b2e0"/>
<rect x="454.15" y="97.45" width="1.3" height="1.3" fill="#a6b2e0"/>
<rect x="457.44" y="84.19" width="1.3" height="1.3" fill="#a6b2e0"/>
<rect x="455.53" y="92.69" width="1.3" height="1.3" fill="#a6b2e0"/>
<rect x="461.83" y="91.15" width="1.3" height="1.3" fill="#a6b2e0"/>
<rect x="466.77" y="93.53" width="1.3" height="1.3" fill="#a6b2e0"/>
<rect x="459.25" y="93.04" width="1.3" height="1.3" fill="#a6b2e0"/>
<rect x="467.62" y="94.72" width="1.3" height="1.3" fill="#a6b2e0"/>
<rect x="464.47" y="85.48" width="1.3" height="1.3" fill="#a6b2e0"/>
<rect x="458.61" y="93.63" width="1.3" height="1.3" fill="#a6b2e0"/>
<rect x="457.87" y="95.16" width="1.3" height="1.3" fill="#a6b2e0"/>
<rect x="462.33" y="94.44" width="1.3" height="1.3" fill="#a6b2e0"/>
<rect x="458.29" y="101.81" width="1.3" height="1.3" fill="#a6b2e0"/>
<rect x="465.55" y="89.38" width="1.3" height="1.3" fill="#a6b2e0"/>
<rect x="459.8" y="102.03" width="1.3" height="1.3" fill="#a6b2e0"/>
<rect x="457.63" y="94.28" width="1.3" height="1.3" fill="#a6b2e0"/>
<rect x="464.25" y="90.38" width="1.3" height="1.3" fill="#a6b2e0"/>
<rect x="453.51" y="91.19" width="1.3" height="1.3" fill="#a6b2e0"/>
<rect x="461.15" y="95.43" width="1.3" height="1.3" fill="#a6b2e0"/>
<rect x="463.26" y="90.46" width="1.3" height="1.3" fill="#a6b2e0"/>
<rect x="463.62" y="92.78" width="1.3" height="1.3" fill="#a6b2e0"/>
<rect x="460.38" y="90.6" width="1.3" height="1.3" fill="#a6b2e0"/>
<rect x="458.13" y="93.44" width="1.3" height="1.3" fill="#a6b2e0"/>
<rect x="454.08" y="87.52" width="1.3" height="1.3" fill="#a6b2e0"/>
<rect x="459.37" y="83.76" width="1.3" height="1.3" fill="#a6b2e0"/>
<rect x="457.17" y="81.31" width="1.3" height="1.3" fill="#a6b2e0"/>
<rect x="455.94" y="92.91" width="1.3" height="1.3" fill="#a6b2e0"/>
<rect x="462.18" y="90.1" width="1.3" height="1.3" fill="#a6b2e0"/>
<rect x="458.19" y="83.97" width="1.3" height="1.3" fill="#a6b2e0"/>
<rect x="468.49" y="92.67" width="1.3" height="1.3" fill="#a6b2e0"/>
<rect x="464.82" y="86.38" width="1.3" height="1.3" fill="#a6b2e0"/>
<rect x="458.42" y="82.16" width="1.3" height="1.3" fill="#a6b2e0"/>
<rect x="463.25" y="94.56" width="1.3" height="1.3" fill="#a6b2e0"/>
<rect x="449.86" y="90.12" width="1.3" height="1.3" fill="#a6b2e0"/>
<rect x="462.5" y="82.42" width="1.3" height="1.3" fill="#a6b2e0"/>
<rect x="438.83" y="84.89" width="1.3" height="1.3" fill="#b0bbe4"/>
<rect x="449" y="82.53" width="1.3" height="1.3" fill="#b0bbe4"/>
<rect x="454.62" y="94.1" width="1.3" height="1.3" fill="#b0bbe4"/>
<rect x="459.74" y="97.26" width="1.3" height="1.3" fill="#b0bbe4"/>
<rect x="467.12" y="100.5" width="1.3" height="1.3" fill="#b0bbe4"/>
<rect x="443.2" y="88.81" width="1.3" height="1.3" fill="#b0bbe4"/>
<rect x="445.34" y="84.81" width="1.3" height="1.3" fill="#b0bbe4"/>
<rect x="453.66" y="92.39" width="1.3" height="1.3" fill="#b0bbe4"/>
<rect x="458.52" y="81.24" width="1.3" height="1.3" fill="#b0bbe4"/>
<rect x="443.83" y="92.19" width="1.3" height="1.3" fill="#b0bbe4"/>
<rect x="452.65" y="90.17" width="1.3" height="1.3" fill="#b0bbe4"/>
<rect x="453.81" y="87.03" width="1.3" height="1.3" fill="#b0bbe4"/>
<rect x="460.31" y="94.83" width="1.3" height="1.3" fill="#b0bbe4"/>
<rect x="453.6" y="87.65" width="1.3" height="1.3" fill="#b0bbe4"/>
<rect x="446.01" y="92.61" width="1.3" height="1.3" fill="#b0bbe4"/>
<rect x="441.57" y="93.75" width="1.3" height="1.3" fill="#b0bbe4"/>
<rect x="455.6" y="82.71" width="1.3" height="1.3" fill="#b0bbe4"/>
<rect x="452.22" y="90.15" width="1.3" height="1.3" fill="#b0bbe4"/>
<rect x="458.26" y="96.63" width="1.3" height="1.3" fill="#b0bbe4"/>
<rect x="454.04" y="86.39" width="1.3" height="1.3" fill="#b0bbe4"/>
<rect x="453.12" y="91.89" width="1.3" height="1.3" fill="#b0bbe4"/>
<rect x="460.59" y="94.41" width="1.3" height="1.3" fill="#b0bbe4"/>
<rect x="448.21" y="82.87" width="1.3" height="1.3" fill="#b0bbe4"/>
<rect x="451.18" y="87.17" width="1.3" height="1.3" fill="#b0bbe4"/>
<rect x="444.9" y="91.54" width="1.3" height="1.3" fill="#b0bbe4"/>
<rect x="450.18" y="93.09" width="1.3" height="1.3" fill="#b0bbe4"/>
<rect x="458.8" y="89.46" width="1.3" height="1.3" fill="#b0bbe4"/>
<rect x="463.71" y="93.2" width="1.3" height="1.3" fill="#b0bbe4"/>
<rect x="463.84" y="75.72" width="1.3" height="1.3" fill="#b0bbe4"/>
<rect x="447.96" y="94.08" width="1.3" height="1.3" fill="#b0bbe4"/>
<rect x="459.47" y="108.71" width="1.3" height="1.3" fill="#b0bbe4"/>
<rect x="457.09" y="101.31" width="1.3" height="1.3" fill="#b0bbe4"/>
<rect x="460.86" y="98.98" width="1.3" height="1.3" fill="#b0bbe4"/>
<rect x="458.69" y="91.26" width="1.3" height="1.3" fill="#b0bbe4"/>
<rect x="458.68" y="84.8" width="1.3" height="1.3" fill="#b0bbe4"/>
<rect x="464.39" y="85.23" width="1.3" height="1.3" fill="#b0bbe4"/>
<rect x="456.47" y="107.2" width="1.3" height="1.3" fill="#b0bbe4"/>
<rect x="452.45" y="92.49" width="1.3" height="1.3" fill="#b0bbe4"/>
<rect x="464.24" y="92.53" width="1.3" height="1.3" fill="#b0bbe4"/>
<rect x="447.49" y="94.16" width="1.3" height="1.3" fill="#b0bbe4"/>
<rect x="459.3" y="97.32" width="1.3" height="1.3" fill="#b0bbe4"/>
<rect x="447.78" y="104.62" width="1.3" height="1.3" fill="#b0bbe4"/>
<rect x="468.52" y="92.48" width="1.3" height="1.3" fill="#b0bbe4"/>
<rect x="456.63" y="89.35" width="1.3" height="1.3" fill="#b0bbe4"/>
<rect x="466.37" y="87.42" width="1.3" height="1.3" fill="#b0bbe4"/>
<rect x="460.08" y="88.99" width="1.3" height="1.3" fill="#b0bbe4"/>
<rect x="448.45" y="97.38" width="1.3" height="1.3" fill="#b0bbe4"/>
<rect x="465.69" y="92.28" width="1.3" height="1.3" fill="#b0bbe4"/>
<rect x="433.22" y="60.82" width="1.96" height="1.96" fill="#d7191c"/>
<rect x="435.52" y="60.82" width="1.96" height="1.96" fill="#d7191c"/>
<rect x="435.12" y="68.92" width="1.96" height="1.96" fill="#d7191c"/>
<rect x="442.32" y="69.32" width="1.96" height="1.96" fill="#d7191c"/>
<rect x="443.62" y="69.62" width="1.96" height="1.96" fill="#d7191c"/>
<rect x="437.82" y="74.72" width="1.96" height="1.96" fill="#d7191c"/>
<rect x="438.92" y="76.02" width="1.96" height="1.96" fill="#d7191c"/>
<rect x="438.62" y="77.42" width="1.96" height="1.96" fill="#d7191c"/>
<rect x="445.42" y="76.42" width="1.96" height="1.96" fill="#d7191c"/>
<rect x="442.52" y="77.42" width="1.96" height="1.96" fill="#d7191c"/>
<rect x="436.52" y="80.52" width="1.96" height="1.96" fill="#d7191c"/>
<rect x="438.22" y="80.02" width="1.96" height="1.96" fill="#d7191c"/>
<rect x="435.52" y="85.42" width="1.96" height="1.96" fill="#d7191c"/>
<rect x="434.62" y="86.42" width="1.96" height="1.96" fill="#d7191c"/>
<rect x="433.82" y="87.72" width="1.96" height="1.96" fill="#d7191c"/>
<rect x="434.22" y="91.92" width="1.96" height="1.96" fill="#d7191c"/>
<rect x="438.52" y="91.52" width="1.96" height="1.96" fill="#d7191c"/>
<rect x="439.22" y="92.82" width="1.96" height="1.96" fill="#d7191c"/>
<rect x="451.32" y="90.42" width="1.96" height="1.96" fill="#d7191c"/>
<rect x="436.52" y="97.32" width="1.96" height="1.96" fill="#d7191c"/>
<rect x="451.32" y="98.92" width="1.96" height="1.96" fill="#d7191c"/>
<rect x="457.52" y="97.82" width="1.96" height="1.96" fill="#d7191c"/>
<rect x="438.22" y="102.92" width="1.96" height="1.96" fill="#d7191c"/>
<rect x="444.02" y="103.22" width="1.96" height="1.96" fill="#d7191c"/>
<rect x="454.12" y="103.62" width="1.96" height="1.96" fill="#d7191c"/>
<rect x="481.02" y="104.32" width="1.96" height="1.96" fill="#d7191c"/>
<rect x="478.22" y="109.72" width="1.96" height="1.96" fill="#d7191c"/>
<line x1="470.9" y1="47.4" x2="437.2" y2="116.7" stroke="#231f20" stroke-width="1.25" stroke-dasharray="2.7 1.7"/>
<line x1="381.3" y1="34.5" x2="383.9" y2="34.5" stroke="#231f20" stroke-width="1"/>
<text x="378.3" y="36.77" font-size="6.6" text-anchor="end" textLength="17.3" lengthAdjust="spacingAndGlyphs">20000</text>
<line x1="381.3" y1="62.9" x2="383.9" y2="62.9" stroke="#231f20" stroke-width="1"/>
<text x="378.3" y="65.17" font-size="6.6" text-anchor="end" textLength="17.3" lengthAdjust="spacingAndGlyphs">10000</text>
<line x1="381.3" y1="91.3" x2="383.9" y2="91.3" stroke="#231f20" stroke-width="1"/>
<text x="378.3" y="93.57" font-size="6.6" text-anchor="end" textLength="3.5" lengthAdjust="spacingAndGlyphs">0</text>
<line x1="381.3" y1="119.7" x2="383.9" y2="119.7" stroke="#231f20" stroke-width="1"/>
<text x="378.3" y="121.97" font-size="6.6" text-anchor="end" textLength="19.3" lengthAdjust="spacingAndGlyphs">-10000</text>
<line x1="389.6" y1="139.6" x2="389.6" y2="142.2" stroke="#231f20" stroke-width="1"/>
<text x="389.6" y="150.87" font-size="6.6" text-anchor="middle" textLength="19.3" lengthAdjust="spacingAndGlyphs">-20000</text>
<line x1="417.7" y1="139.6" x2="417.7" y2="142.2" stroke="#231f20" stroke-width="1"/>
<text x="417.7" y="150.87" font-size="6.6" text-anchor="middle" textLength="19.3" lengthAdjust="spacingAndGlyphs">-10000</text>
<line x1="445.8" y1="139.6" x2="445.8" y2="142.2" stroke="#231f20" stroke-width="1"/>
<text x="445.8" y="150.87" font-size="6.6" text-anchor="middle" textLength="3.5" lengthAdjust="spacingAndGlyphs">0</text>
<line x1="473.9" y1="139.6" x2="473.9" y2="142.2" stroke="#231f20" stroke-width="1"/>
<text x="473.9" y="150.87" font-size="6.6" text-anchor="middle" textLength="17.3" lengthAdjust="spacingAndGlyphs">10000</text>
<line x1="502" y1="139.6" x2="502" y2="142.2" stroke="#231f20" stroke-width="1"/>
<text x="502" y="150.87" font-size="6.6" text-anchor="middle" textLength="17.3" lengthAdjust="spacingAndGlyphs">20000</text>
<rect x="383.9" y="15.9" width="129" height="123.7" fill="none" stroke="#231f20" stroke-width="1.4"/>
<text x="448" y="162.6" font-size="9" text-anchor="middle" textLength="11" lengthAdjust="spacingAndGlyphs">PC1</text>
<text x="355.6" y="80.85" font-size="9" text-anchor="middle" textLength="11.4" lengthAdjust="spacingAndGlyphs" transform="rotate(-90 355.6 77.75)">PC2</text>
<text x="351.2" y="17.5" font-size="11.6" font-weight="bold" fill="#000">C</text>
<circle cx="472" cy="22.3" r="1.15" fill="#d7191c"/>
<text x="475" y="24.33" font-size="5.9" textLength="32.2" lengthAdjust="spacingAndGlyphs">AEL Cohort-1</text>
<circle cx="472" cy="30.7" r="1.15" fill="#b9dcbc"/>
<text x="475" y="32.73" font-size="5.9" textLength="32.6" lengthAdjust="spacingAndGlyphs">AEL Cohort-2</text>
<circle cx="472" cy="39.1" r="1.15" fill="#a9b4e0"/>
<text x="475" y="41.13" font-size="5.9" textLength="11.6" lengthAdjust="spacingAndGlyphs">MDS</text>
</g>
<g id="D">
<path d="M46.1,273.5 C46.4,273.7 47.18,274.42 47.9,274.7 C48.62,274.98 49.4,275.23 50.4,275.2 C51.4,275.17 52.45,275.23 53.9,274.5 C55.35,273.77 57.28,272.43 59.1,270.8 C60.92,269.17 62.95,266.92 64.8,264.7 C66.65,262.48 68.7,259.75 70.2,257.5 C71.7,255.25 72.3,254.32 73.8,251.2 C75.3,248.08 77.43,243.18 79.2,238.8 C80.97,234.42 82.68,228.98 84.4,224.9 C86.12,220.82 87.82,217.33 89.5,214.3 C91.18,211.27 92.83,208.7 94.5,206.7 C96.17,204.7 97.83,203.38 99.5,202.3 C101.17,201.22 102.87,200.72 104.5,200.2 C106.13,199.68 107.53,199.32 109.3,199.2 C111.07,199.08 114.13,199.45 115.1,199.5" fill="none" stroke="#8dc63f" stroke-width="1.15"/>
<path d="M50.4,289 C51.27,288.43 53.58,286.73 55.6,285.6 C57.62,284.47 60.18,283.2 62.5,282.2 C64.82,281.2 66.9,280.27 69.5,279.6 C72.1,278.93 75.22,278.35 78.1,278.2 C80.98,278.05 83.92,278.18 86.8,278.7 C89.68,279.22 92.48,280.4 95.4,281.3 C98.32,282.2 101.4,283.27 104.3,284.1 C107.2,284.93 110.05,285.72 112.8,286.3 C115.55,286.88 118.38,287.33 120.8,287.6 C123.22,287.87 125.12,288 127.3,287.9 C129.48,287.8 131.67,287.57 133.9,287 C136.13,286.43 138.45,285.42 140.7,284.5 C142.95,283.58 145.17,282.63 147.4,281.5 C149.63,280.37 152.08,278.95 154.1,277.7 C156.12,276.45 158.03,275.05 159.5,274 C160.97,272.95 162.33,271.83 162.9,271.4" fill="none" stroke="#9a9a9a" stroke-width="1.15"/>
<rect x="106.41" y="267.41" width="1.6" height="1.6" fill="#b9a3dc"/>
<rect x="124.16" y="259.84" width="1.6" height="1.6" fill="#b9a3dc"/>
<rect x="105.57" y="263.64" width="1.6" height="1.6" fill="#b9a3dc"/>
<rect x="120.02" y="273.53" width="1.6" height="1.6" fill="#b9a3dc"/>
<rect x="106.47" y="253.21" width="1.6" height="1.6" fill="#b9a3dc"/>
<rect x="121.85" y="268.23" width="1.6" height="1.6" fill="#b9a3dc"/>
<rect x="128.47" y="272.55" width="1.6" height="1.6" fill="#b9a3dc"/>
<rect x="115.39" y="261.87" width="1.6" height="1.6" fill="#b9a3dc"/>
<rect x="109.92" y="254.52" width="1.6" height="1.6" fill="#b9a3dc"/>
<rect x="116.96" y="265.44" width="1.6" height="1.6" fill="#b9a3dc"/>
<rect x="113.44" y="263.67" width="1.6" height="1.6" fill="#b9a3dc"/>
<rect x="118.38" y="270.09" width="1.6" height="1.6" fill="#b9a3dc"/>
<rect x="124.97" y="265.98" width="1.6" height="1.6" fill="#b9a3dc"/>
<rect x="101.88" y="270.16" width="1.6" height="1.6" fill="#b9a3dc"/>
<rect x="104.84" y="262.74" width="1.6" height="1.6" fill="#b9a3dc"/>
<rect x="104.41" y="264.22" width="1.6" height="1.6" fill="#b9a3dc"/>
<rect x="109.97" y="266.02" width="1.6" height="1.6" fill="#b9a3dc"/>
<rect x="122.94" y="252.95" width="1.6" height="1.6" fill="#b9a3dc"/>
<rect x="113.9" y="269.83" width="1.6" height="1.6" fill="#b9a3dc"/>
<rect x="115.46" y="267.35" width="1.6" height="1.6" fill="#b9a3dc"/>
<rect x="117.03" y="255.65" width="1.6" height="1.6" fill="#b9a3dc"/>
<rect x="120.71" y="257.3" width="1.6" height="1.6" fill="#b9a3dc"/>
<rect x="131.17" y="259.91" width="1.6" height="1.6" fill="#b9a3dc"/>
<rect x="121.69" y="264.22" width="1.6" height="1.6" fill="#b9a3dc"/>
<rect x="123.82" y="259.08" width="1.6" height="1.6" fill="#b9a3dc"/>
<rect x="124.19" y="263.15" width="1.6" height="1.6" fill="#b9a3dc"/>
<rect x="126.31" y="269.51" width="1.6" height="1.6" fill="#b9a3dc"/>
<rect x="117.33" y="257.57" width="1.6" height="1.6" fill="#b9a3dc"/>
<rect x="88" y="247.4" width="1.6" height="1.6" fill="#b9a3dc"/>
<rect x="90.4" y="262.2" width="1.6" height="1.6" fill="#b9a3dc"/>
<rect x="91.4" y="270" width="1.6" height="1.6" fill="#b9a3dc"/>
<rect x="109.7" y="279.7" width="1.6" height="1.6" fill="#b9a3dc"/>
<rect x="112.2" y="278.7" width="1.6" height="1.6" fill="#b9a3dc"/>
<rect x="128" y="249.2" width="1.6" height="1.6" fill="#b9dcbc"/>
<rect x="88.8" y="250.7" width="1.6" height="1.6" fill="#b9dcbc"/>
<rect x="130.4" y="266.9" width="1.6" height="1.6" fill="#b9dcbc"/>
<rect x="134.2" y="276.9" width="1.6" height="1.6" fill="#b9dcbc"/>
<rect x="118" y="262.2" width="1.6" height="1.6" fill="#b9dcbc"/>
<rect x="122.7" y="268.4" width="1.6" height="1.6" fill="#b9dcbc"/>
<rect x="110.2" y="257.2" width="1.6" height="1.6" fill="#b9dcbc"/>
<rect x="119.2" y="274.2" width="1.6" height="1.6" fill="#b9dcbc"/>
<rect x="125.2" y="261.2" width="1.6" height="1.6" fill="#b9dcbc"/>
<rect x="89.12" y="231.42" width="1.96" height="1.96" fill="#d7191c"/>
<rect x="91.42" y="231.42" width="1.96" height="1.96" fill="#d7191c"/>
<rect x="91.02" y="239.52" width="1.96" height="1.96" fill="#d7191c"/>
<rect x="98.22" y="239.92" width="1.96" height="1.96" fill="#d7191c"/>
<rect x="99.52" y="240.22" width="1.96" height="1.96" fill="#d7191c"/>
<rect x="93.72" y="245.32" width="1.96" height="1.96" fill="#d7191c"/>
<rect x="94.82" y="246.62" width="1.96" height="1.96" fill="#d7191c"/>
<rect x="94.52" y="248.02" width="1.96" height="1.96" fill="#d7191c"/>
<rect x="101.32" y="247.02" width="1.96" height="1.96" fill="#d7191c"/>
<rect x="98.42" y="248.02" width="1.96" height="1.96" fill="#d7191c"/>
<rect x="92.42" y="251.12" width="1.96" height="1.96" fill="#d7191c"/>
<rect x="94.12" y="250.62" width="1.96" height="1.96" fill="#d7191c"/>
<rect x="91.42" y="256.02" width="1.96" height="1.96" fill="#d7191c"/>
<rect x="90.52" y="257.02" width="1.96" height="1.96" fill="#d7191c"/>
<rect x="89.72" y="258.32" width="1.96" height="1.96" fill="#d7191c"/>
<rect x="90.12" y="262.52" width="1.96" height="1.96" fill="#d7191c"/>
<rect x="94.42" y="262.12" width="1.96" height="1.96" fill="#d7191c"/>
<rect x="95.12" y="263.42" width="1.96" height="1.96" fill="#d7191c"/>
<rect x="107.22" y="261.02" width="1.96" height="1.96" fill="#d7191c"/>
<rect x="92.42" y="267.92" width="1.96" height="1.96" fill="#d7191c"/>
<rect x="107.22" y="269.52" width="1.96" height="1.96" fill="#d7191c"/>
<rect x="113.42" y="268.42" width="1.96" height="1.96" fill="#d7191c"/>
<rect x="94.12" y="273.52" width="1.96" height="1.96" fill="#d7191c"/>
<rect x="99.92" y="273.82" width="1.96" height="1.96" fill="#d7191c"/>
<rect x="110.02" y="274.22" width="1.96" height="1.96" fill="#d7191c"/>
<rect x="136.92" y="274.92" width="1.96" height="1.96" fill="#d7191c"/>
<rect x="134.12" y="280.32" width="1.96" height="1.96" fill="#d7191c"/>
<line x1="127.3" y1="219.3" x2="93.6" y2="288.4" stroke="#231f20" stroke-width="1.25" stroke-dasharray="2.7 1.7"/>
<line x1="135.9" y1="283.6" x2="141.2" y2="289.3" stroke="#231f20" stroke-width="0.9"/>
<text x="142.8" y="297.17" font-size="6.6" text-anchor="middle" textLength="21.2" lengthAdjust="spacingAndGlyphs">AEL-24</text>
<line x1="37.2" y1="205.1" x2="39.8" y2="205.1" stroke="#231f20" stroke-width="1"/>
<text x="34.2" y="207.37" font-size="6.6" text-anchor="end" textLength="17.3" lengthAdjust="spacingAndGlyphs">20000</text>
<line x1="37.2" y1="233.5" x2="39.8" y2="233.5" stroke="#231f20" stroke-width="1"/>
<text x="34.2" y="235.77" font-size="6.6" text-anchor="end" textLength="17.3" lengthAdjust="spacingAndGlyphs">10000</text>
<line x1="37.2" y1="261.9" x2="39.8" y2="261.9" stroke="#231f20" stroke-width="1"/>
<text x="34.2" y="264.17" font-size="6.6" text-anchor="end" textLength="3.5" lengthAdjust="spacingAndGlyphs">0</text>
<line x1="37.2" y1="290.3" x2="39.8" y2="290.3" stroke="#231f20" stroke-width="1"/>
<text x="34.2" y="292.57" font-size="6.6" text-anchor="end" textLength="19.3" lengthAdjust="spacingAndGlyphs">-10000</text>
<line x1="45.5" y1="310" x2="45.5" y2="312.6" stroke="#231f20" stroke-width="1"/>
<text x="45.5" y="321.27" font-size="6.6" text-anchor="middle" textLength="19.3" lengthAdjust="spacingAndGlyphs">-20000</text>
<line x1="73.6" y1="310" x2="73.6" y2="312.6" stroke="#231f20" stroke-width="1"/>
<text x="73.6" y="321.27" font-size="6.6" text-anchor="middle" textLength="19.3" lengthAdjust="spacingAndGlyphs">-10000</text>
<line x1="101.7" y1="310" x2="101.7" y2="312.6" stroke="#231f20" stroke-width="1"/>
<text x="101.7" y="321.27" font-size="6.6" text-anchor="middle" textLength="3.5" lengthAdjust="spacingAndGlyphs">0</text>
<line x1="129.8" y1="310" x2="129.8" y2="312.6" stroke="#231f20" stroke-width="1"/>
<text x="129.8" y="321.27" font-size="6.6" text-anchor="middle" textLength="17.3" lengthAdjust="spacingAndGlyphs">10000</text>
<line x1="157.9" y1="310" x2="157.9" y2="312.6" stroke="#231f20" stroke-width="1"/>
<text x="157.9" y="321.27" font-size="6.6" text-anchor="middle" textLength="17.3" lengthAdjust="spacingAndGlyphs">20000</text>
<rect x="39.8" y="186" width="129" height="124" fill="none" stroke="#231f20" stroke-width="1.4"/>
<text x="103.9" y="333" font-size="9" text-anchor="middle" textLength="11" lengthAdjust="spacingAndGlyphs">PC1</text>
<text x="11.5" y="251.1" font-size="9" text-anchor="middle" textLength="11.4" lengthAdjust="spacingAndGlyphs" transform="rotate(-90 11.5 248)">PC2</text>
<text x="7.3" y="181.7" font-size="11.6" font-weight="bold" fill="#000">D</text>
<circle cx="123.5" cy="192" r="1.15" fill="#d7191c"/>
<text x="126.3" y="194.03" font-size="5.9" textLength="31.8" lengthAdjust="spacingAndGlyphs">AEL Cohort-1</text>
<circle cx="123.5" cy="200.4" r="1.15" fill="#b9dcbc"/>
<text x="126.3" y="202.43" font-size="5.9" textLength="11.5" lengthAdjust="spacingAndGlyphs">AML</text>
<circle cx="123.5" cy="208.8" r="1.15" fill="#b59ad8"/>
<text x="126.3" y="210.83" font-size="5.9" textLength="9.8" lengthAdjust="spacingAndGlyphs">APL</text>
</g>
<defs><linearGradient id="cbg" x1="0" y1="0" x2="0" y2="1"><stop offset="0.0" stop-color="rgb(220,58,18)"/><stop offset="0.2" stop-color="rgb(212,18,50)"/><stop offset="0.45" stop-color="rgb(204,15,110)"/><stop offset="0.65" stop-color="rgb(160,26,146)"/><stop offset="0.82" stop-color="rgb(90,32,144)"/><stop offset="1.0" stop-color="rgb(42,24,136)"/></linearGradient></defs>
<g>
<path d="M222.36,235.1 C222.53,235.22 223,235.64 223.42,235.8 C223.85,235.97 224.31,236.12 224.9,236.1 C225.5,236.08 226.12,236.12 226.98,235.69 C227.84,235.26 228.98,234.48 230.06,233.52 C231.13,232.56 232.34,231.24 233.44,229.94 C234.53,228.64 235.75,227.04 236.64,225.72 C237.52,224.4 237.88,223.85 238.77,222.03 C239.66,220.2 240.92,217.33 241.97,214.76 C243.01,212.19 244.03,209 245.05,206.61 C246.07,204.21 247.07,202.17 248.07,200.39 C249.07,198.62 250.05,197.11 251.03,195.94 C252.02,194.77 253.01,193.99 254,193.36 C254.98,192.72 255.99,192.43 256.96,192.13 C257.93,191.82 258.76,191.61 259.8,191.54 C260.85,191.47 262.67,191.69 263.24,191.72" fill="none" stroke="#8dc63f" stroke-width="1.15"/>
<path d="M224.9,244.19 C225.42,243.86 226.79,242.86 227.98,242.19 C229.18,241.53 230.7,240.79 232.07,240.2 C233.45,239.61 234.68,239.07 236.22,238.68 C237.76,238.29 239.61,237.94 241.32,237.86 C243.02,237.77 244.76,237.85 246.47,238.15 C248.18,238.45 249.84,239.15 251.57,239.67 C253.3,240.2 255.12,240.83 256.84,241.32 C258.56,241.8 260.25,242.26 261.88,242.6 C263.51,242.95 265.19,243.21 266.62,243.37 C268.05,243.52 269.18,243.6 270.47,243.54 C271.76,243.48 273.06,243.35 274.38,243.02 C275.7,242.68 277.08,242.09 278.41,241.55 C279.74,241.01 281.06,240.46 282.38,239.79 C283.7,239.13 285.15,238.3 286.35,237.56 C287.54,236.83 288.68,236.01 289.55,235.39 C290.42,234.78 291.23,234.12 291.56,233.87" fill="none" stroke="#9a9a9a" stroke-width="1.15"/>
<rect x="247.58" y="210.16" width="1.7" height="1.7" fill="#e56f55"/>
<rect x="248.94" y="210.16" width="1.7" height="1.7" fill="#7b5cac"/>
<rect x="248.7" y="214.9" width="1.7" height="1.7" fill="#805dad"/>
<rect x="252.97" y="215.14" width="1.7" height="1.7" fill="#db5290"/>
<rect x="253.74" y="215.31" width="1.7" height="1.7" fill="#785bac"/>
<rect x="250.3" y="218.3" width="1.7" height="1.7" fill="#8a5daf"/>
<rect x="250.95" y="219.07" width="1.7" height="1.7" fill="#8d5daf"/>
<rect x="250.78" y="219.89" width="1.7" height="1.7" fill="#715aaa"/>
<rect x="254.81" y="219.3" width="1.7" height="1.7" fill="#835dae"/>
<rect x="253.09" y="219.89" width="1.7" height="1.7" fill="#845dae"/>
<rect x="249.53" y="221.7" width="1.7" height="1.7" fill="#6c59aa"/>
<rect x="250.54" y="221.41" width="1.7" height="1.7" fill="#7d5cac"/>
<rect x="248.94" y="224.58" width="1.7" height="1.7" fill="#715aaa"/>
<rect x="248.41" y="225.16" width="1.7" height="1.7" fill="#7d5cac"/>
<rect x="247.93" y="225.93" width="1.7" height="1.7" fill="#785bac"/>
<rect x="248.17" y="228.39" width="1.7" height="1.7" fill="#865dae"/>
<rect x="250.72" y="228.15" width="1.7" height="1.7" fill="#785bac"/>
<rect x="251.13" y="228.92" width="1.7" height="1.7" fill="#d85297"/>
<rect x="258.3" y="227.51" width="1.7" height="1.7" fill="#7b5cac"/>
<rect x="249.53" y="231.55" width="1.7" height="1.7" fill="#745aab"/>
<rect x="258.3" y="232.49" width="1.7" height="1.7" fill="#765bac"/>
<rect x="261.98" y="231.85" width="1.7" height="1.7" fill="#8b5daf"/>
<rect x="250.54" y="234.84" width="1.7" height="1.7" fill="#745aab"/>
<rect x="253.98" y="235.01" width="1.7" height="1.7" fill="#795bac"/>
<rect x="259.96" y="235.25" width="1.7" height="1.7" fill="#825dad"/>
<rect x="275.9" y="235.66" width="1.7" height="1.7" fill="#8c5daf"/>
<rect x="274.24" y="238.82" width="1.7" height="1.7" fill="#715aaa"/>
<line x1="216.4" y1="195" x2="219" y2="195" stroke="#231f20" stroke-width="1"/>
<text x="213.4" y="197.24" font-size="6.5" text-anchor="end" textLength="17" lengthAdjust="spacingAndGlyphs">20000</text>
<line x1="216.4" y1="211.65" x2="219" y2="211.65" stroke="#231f20" stroke-width="1"/>
<text x="213.4" y="213.89" font-size="6.5" text-anchor="end" textLength="17" lengthAdjust="spacingAndGlyphs">10000</text>
<line x1="216.4" y1="228.3" x2="219" y2="228.3" stroke="#231f20" stroke-width="1"/>
<text x="213.4" y="230.54" font-size="6.5" text-anchor="end" textLength="3.5" lengthAdjust="spacingAndGlyphs">0</text>
<line x1="216.4" y1="244.95" x2="219" y2="244.95" stroke="#231f20" stroke-width="1"/>
<text x="213.4" y="247.19" font-size="6.5" text-anchor="end" textLength="19" lengthAdjust="spacingAndGlyphs">-10000</text>
<line x1="222" y1="256.3" x2="222" y2="258.9" stroke="#231f20" stroke-width="1"/>
<text x="223.1" y="267.24" font-size="6.5" text-anchor="end" textLength="19" lengthAdjust="spacingAndGlyphs" fill="#231f20" transform="rotate(-45 223.1 265)">-20000</text>
<line x1="238.65" y1="256.3" x2="238.65" y2="258.9" stroke="#231f20" stroke-width="1"/>
<text x="239.75" y="267.24" font-size="6.5" text-anchor="end" textLength="19" lengthAdjust="spacingAndGlyphs" fill="#231f20" transform="rotate(-45 239.75 265)">-10000</text>
<line x1="255.3" y1="256.3" x2="255.3" y2="258.9" stroke="#231f20" stroke-width="1"/>
<text x="256.4" y="267.24" font-size="6.5" text-anchor="end" textLength="3.5" lengthAdjust="spacingAndGlyphs" fill="#231f20" transform="rotate(-45 256.4 265)">0</text>
<line x1="271.95" y1="256.3" x2="271.95" y2="258.9" stroke="#231f20" stroke-width="1"/>
<text x="273.05" y="267.24" font-size="6.5" text-anchor="end" textLength="17" lengthAdjust="spacingAndGlyphs" fill="#231f20" transform="rotate(-45 273.05 265)">10000</text>
<line x1="288.6" y1="256.3" x2="288.6" y2="258.9" stroke="#231f20" stroke-width="1"/>
<text x="289.7" y="267.24" font-size="6.5" text-anchor="end" textLength="17" lengthAdjust="spacingAndGlyphs" fill="#231f20" transform="rotate(-45 289.7 265)">20000</text>
<rect x="219" y="184" width="75.6" height="72.3" fill="none" stroke="#231f20" stroke-width="1.4"/>
</g>
<g>
<path d="M329.96,235.1 C330.13,235.22 330.6,235.64 331.02,235.8 C331.45,235.97 331.91,236.12 332.5,236.1 C333.1,236.08 333.72,236.12 334.58,235.69 C335.44,235.26 336.58,234.48 337.66,233.52 C338.73,232.56 339.94,231.24 341.04,229.94 C342.13,228.64 343.35,227.04 344.24,225.72 C345.12,224.4 345.48,223.85 346.37,222.03 C347.26,220.2 348.52,217.33 349.57,214.76 C350.61,212.19 351.63,209 352.65,206.61 C353.67,204.21 354.67,202.17 355.67,200.39 C356.67,198.62 357.65,197.11 358.63,195.94 C359.62,194.77 360.61,193.99 361.6,193.36 C362.58,192.72 363.59,192.43 364.56,192.13 C365.53,191.82 366.36,191.61 367.4,191.54 C368.45,191.47 370.27,191.69 370.84,191.72" fill="none" stroke="#8dc63f" stroke-width="1.15"/>
<path d="M332.5,244.19 C333.02,243.86 334.39,242.86 335.58,242.19 C336.78,241.53 338.3,240.79 339.67,240.2 C341.05,239.61 342.28,239.07 343.82,238.68 C345.36,238.29 347.21,237.94 348.92,237.86 C350.62,237.77 352.36,237.85 354.07,238.15 C355.78,238.45 357.44,239.15 359.17,239.67 C360.9,240.2 362.72,240.83 364.44,241.32 C366.16,241.8 367.85,242.26 369.48,242.6 C371.11,242.95 372.79,243.21 374.22,243.37 C375.65,243.52 376.78,243.6 378.07,243.54 C379.36,243.48 380.66,243.35 381.98,243.02 C383.3,242.68 384.68,242.09 386.01,241.55 C387.34,241.01 388.66,240.46 389.98,239.79 C391.3,239.13 392.75,238.3 393.95,237.56 C395.14,236.83 396.28,236.01 397.15,235.39 C398.02,234.78 398.83,234.12 399.16,233.87" fill="none" stroke="#9a9a9a" stroke-width="1.15"/>
<rect x="355.18" y="210.16" width="1.7" height="1.7" fill="#815dad"/>
<rect x="356.54" y="210.16" width="1.7" height="1.7" fill="#cc55a1"/>
<rect x="356.3" y="214.9" width="1.7" height="1.7" fill="#745aab"/>
<rect x="360.57" y="215.14" width="1.7" height="1.7" fill="#795bac"/>
<rect x="361.34" y="215.31" width="1.7" height="1.7" fill="#735aab"/>
<rect x="357.9" y="218.3" width="1.7" height="1.7" fill="#835dad"/>
<rect x="358.55" y="219.07" width="1.7" height="1.7" fill="#765bac"/>
<rect x="358.38" y="219.89" width="1.7" height="1.7" fill="#815dad"/>
<rect x="362.41" y="219.3" width="1.7" height="1.7" fill="#725aab"/>
<rect x="360.69" y="219.89" width="1.7" height="1.7" fill="#c856a4"/>
<rect x="357.13" y="221.7" width="1.7" height="1.7" fill="#8f5daf"/>
<rect x="358.14" y="221.41" width="1.7" height="1.7" fill="#8d5daf"/>
<rect x="356.54" y="224.58" width="1.7" height="1.7" fill="#895daf"/>
<rect x="356.01" y="225.16" width="1.7" height="1.7" fill="#715aaa"/>
<rect x="355.53" y="225.93" width="1.7" height="1.7" fill="#825dad"/>
<rect x="355.77" y="228.39" width="1.7" height="1.7" fill="#7b5cac"/>
<rect x="358.32" y="228.15" width="1.7" height="1.7" fill="#865dae"/>
<rect x="358.73" y="228.92" width="1.7" height="1.7" fill="#805dad"/>
<rect x="365.9" y="227.51" width="1.7" height="1.7" fill="#e2645d"/>
<rect x="357.13" y="231.55" width="1.7" height="1.7" fill="#845dae"/>
<rect x="365.9" y="232.49" width="1.7" height="1.7" fill="#7d5cac"/>
<rect x="369.58" y="231.85" width="1.7" height="1.7" fill="#7d5cac"/>
<rect x="358.14" y="234.84" width="1.7" height="1.7" fill="#745aab"/>
<rect x="361.58" y="235.01" width="1.7" height="1.7" fill="#7a5bac"/>
<rect x="367.56" y="235.25" width="1.7" height="1.7" fill="#735aab"/>
<rect x="383.5" y="235.66" width="1.7" height="1.7" fill="#755aab"/>
<rect x="381.84" y="238.82" width="1.7" height="1.7" fill="#715aaa"/>
<line x1="324" y1="195" x2="326.6" y2="195" stroke="#231f20" stroke-width="1"/>
<text x="321" y="197.24" font-size="6.5" text-anchor="end" textLength="17" lengthAdjust="spacingAndGlyphs">20000</text>
<line x1="324" y1="211.65" x2="326.6" y2="211.65" stroke="#231f20" stroke-width="1"/>
<text x="321" y="213.89" font-size="6.5" text-anchor="end" textLength="17" lengthAdjust="spacingAndGlyphs">10000</text>
<line x1="324" y1="228.3" x2="326.6" y2="228.3" stroke="#231f20" stroke-width="1"/>
<text x="321" y="230.54" font-size="6.5" text-anchor="end" textLength="3.5" lengthAdjust="spacingAndGlyphs">0</text>
<line x1="324" y1="244.95" x2="326.6" y2="244.95" stroke="#231f20" stroke-width="1"/>
<text x="321" y="247.19" font-size="6.5" text-anchor="end" textLength="19" lengthAdjust="spacingAndGlyphs">-10000</text>
<line x1="329.6" y1="256.3" x2="329.6" y2="258.9" stroke="#231f20" stroke-width="1"/>
<text x="330.7" y="267.24" font-size="6.5" text-anchor="end" textLength="19" lengthAdjust="spacingAndGlyphs" fill="#231f20" transform="rotate(-45 330.7 265)">-20000</text>
<line x1="346.25" y1="256.3" x2="346.25" y2="258.9" stroke="#231f20" stroke-width="1"/>
<text x="347.35" y="267.24" font-size="6.5" text-anchor="end" textLength="19" lengthAdjust="spacingAndGlyphs" fill="#231f20" transform="rotate(-45 347.35 265)">-10000</text>
<line x1="362.9" y1="256.3" x2="362.9" y2="258.9" stroke="#231f20" stroke-width="1"/>
<text x="364" y="267.24" font-size="6.5" text-anchor="end" textLength="3.5" lengthAdjust="spacingAndGlyphs" fill="#231f20" transform="rotate(-45 364 265)">0</text>
<line x1="379.55" y1="256.3" x2="379.55" y2="258.9" stroke="#231f20" stroke-width="1"/>
<text x="380.65" y="267.24" font-size="6.5" text-anchor="end" textLength="17" lengthAdjust="spacingAndGlyphs" fill="#231f20" transform="rotate(-45 380.65 265)">10000</text>
<line x1="396.2" y1="256.3" x2="396.2" y2="258.9" stroke="#231f20" stroke-width="1"/>
<text x="397.3" y="267.24" font-size="6.5" text-anchor="end" textLength="17" lengthAdjust="spacingAndGlyphs" fill="#231f20" transform="rotate(-45 397.3 265)">20000</text>
<rect x="326.6" y="184" width="75.6" height="72.3" fill="none" stroke="#231f20" stroke-width="1.4"/>
</g>
<g>
<path d="M437.96,235.1 C438.13,235.22 438.6,235.64 439.02,235.8 C439.45,235.97 439.91,236.12 440.5,236.1 C441.1,236.08 441.72,236.12 442.58,235.69 C443.44,235.26 444.58,234.48 445.66,233.52 C446.73,232.56 447.94,231.24 449.04,229.94 C450.13,228.64 451.35,227.04 452.24,225.72 C453.12,224.4 453.48,223.85 454.37,222.03 C455.26,220.2 456.52,217.33 457.57,214.76 C458.61,212.19 459.63,209 460.65,206.61 C461.67,204.21 462.67,202.17 463.67,200.39 C464.67,198.62 465.65,197.11 466.63,195.94 C467.62,194.77 468.61,193.99 469.6,193.36 C470.58,192.72 471.59,192.43 472.56,192.13 C473.53,191.82 474.36,191.61 475.4,191.54 C476.45,191.47 478.27,191.69 478.84,191.72" fill="none" stroke="#8dc63f" stroke-width="1.15"/>
<path d="M440.5,244.19 C441.02,243.86 442.39,242.86 443.58,242.19 C444.78,241.53 446.3,240.79 447.67,240.2 C449.05,239.61 450.28,239.07 451.82,238.68 C453.36,238.29 455.21,237.94 456.92,237.86 C458.62,237.77 460.36,237.85 462.07,238.15 C463.78,238.45 465.44,239.15 467.17,239.67 C468.9,240.2 470.72,240.83 472.44,241.32 C474.16,241.8 475.85,242.26 477.48,242.6 C479.11,242.95 480.79,243.21 482.22,243.37 C483.65,243.52 484.78,243.6 486.07,243.54 C487.36,243.48 488.66,243.35 489.98,243.02 C491.3,242.68 492.68,242.09 494.01,241.55 C495.34,241.01 496.66,240.46 497.98,239.79 C499.3,239.13 500.75,238.3 501.95,237.56 C503.14,236.83 504.28,236.01 505.15,235.39 C506.02,234.78 506.83,234.12 507.16,233.87" fill="none" stroke="#9a9a9a" stroke-width="1.15"/>
<rect x="463.18" y="210.16" width="1.7" height="1.7" fill="#865dae"/>
<rect x="464.54" y="210.16" width="1.7" height="1.7" fill="#9d5caf"/>
<rect x="464.3" y="214.9" width="1.7" height="1.7" fill="#805dad"/>
<rect x="468.57" y="215.14" width="1.7" height="1.7" fill="#be58ac"/>
<rect x="469.34" y="215.31" width="1.7" height="1.7" fill="#7f5dad"/>
<rect x="465.9" y="218.3" width="1.7" height="1.7" fill="#8a5daf"/>
<rect x="466.55" y="219.07" width="1.7" height="1.7" fill="#855dae"/>
<rect x="466.38" y="219.89" width="1.7" height="1.7" fill="#9b5caf"/>
<rect x="470.41" y="219.3" width="1.7" height="1.7" fill="#815dad"/>
<rect x="468.69" y="219.89" width="1.7" height="1.7" fill="#8a5daf"/>
<rect x="465.13" y="221.7" width="1.7" height="1.7" fill="#985daf"/>
<rect x="466.14" y="221.41" width="1.7" height="1.7" fill="#a25baf"/>
<rect x="464.54" y="224.58" width="1.7" height="1.7" fill="#c157aa"/>
<rect x="464.01" y="225.16" width="1.7" height="1.7" fill="#7c5cac"/>
<rect x="463.53" y="225.93" width="1.7" height="1.7" fill="#a15baf"/>
<rect x="463.77" y="228.39" width="1.7" height="1.7" fill="#825dad"/>
<rect x="466.32" y="228.15" width="1.7" height="1.7" fill="#925daf"/>
<rect x="466.73" y="228.92" width="1.7" height="1.7" fill="#9e5caf"/>
<rect x="473.9" y="227.51" width="1.7" height="1.7" fill="#975daf"/>
<rect x="465.13" y="231.55" width="1.7" height="1.7" fill="#835dad"/>
<rect x="473.9" y="232.49" width="1.7" height="1.7" fill="#805dad"/>
<rect x="477.58" y="231.85" width="1.7" height="1.7" fill="#a35baf"/>
<rect x="466.14" y="234.84" width="1.7" height="1.7" fill="#885daf"/>
<rect x="469.58" y="235.01" width="1.7" height="1.7" fill="#e46c57"/>
<rect x="475.56" y="235.25" width="1.7" height="1.7" fill="#855dae"/>
<rect x="491.5" y="235.66" width="1.7" height="1.7" fill="#955daf"/>
<rect x="489.84" y="238.82" width="1.7" height="1.7" fill="#805dad"/>
<line x1="432" y1="195" x2="434.6" y2="195" stroke="#231f20" stroke-width="1"/>
<text x="429" y="197.24" font-size="6.5" text-anchor="end" textLength="17" lengthAdjust="spacingAndGlyphs">20000</text>
<line x1="432" y1="211.65" x2="434.6" y2="211.65" stroke="#231f20" stroke-width="1"/>
<text x="429" y="213.89" font-size="6.5" text-anchor="end" textLength="17" lengthAdjust="spacingAndGlyphs">10000</text>
<line x1="432" y1="228.3" x2="434.6" y2="228.3" stroke="#231f20" stroke-width="1"/>
<text x="429" y="230.54" font-size="6.5" text-anchor="end" textLength="3.5" lengthAdjust="spacingAndGlyphs">0</text>
<line x1="432" y1="244.95" x2="434.6" y2="244.95" stroke="#231f20" stroke-width="1"/>
<text x="429" y="247.19" font-size="6.5" text-anchor="end" textLength="19" lengthAdjust="spacingAndGlyphs">-10000</text>
<line x1="437.6" y1="256.3" x2="437.6" y2="258.9" stroke="#231f20" stroke-width="1"/>
<text x="438.7" y="267.24" font-size="6.5" text-anchor="end" textLength="19" lengthAdjust="spacingAndGlyphs" fill="#231f20" transform="rotate(-45 438.7 265)">-20000</text>
<line x1="454.25" y1="256.3" x2="454.25" y2="258.9" stroke="#231f20" stroke-width="1"/>
<text x="455.35" y="267.24" font-size="6.5" text-anchor="end" textLength="19" lengthAdjust="spacingAndGlyphs" fill="#231f20" transform="rotate(-45 455.35 265)">-10000</text>
<line x1="470.9" y1="256.3" x2="470.9" y2="258.9" stroke="#231f20" stroke-width="1"/>
<text x="472" y="267.24" font-size="6.5" text-anchor="end" textLength="3.5" lengthAdjust="spacingAndGlyphs" fill="#231f20" transform="rotate(-45 472 265)">0</text>
<line x1="487.55" y1="256.3" x2="487.55" y2="258.9" stroke="#231f20" stroke-width="1"/>
<text x="488.65" y="267.24" font-size="6.5" text-anchor="end" textLength="17" lengthAdjust="spacingAndGlyphs" fill="#231f20" transform="rotate(-45 488.65 265)">10000</text>
<line x1="504.2" y1="256.3" x2="504.2" y2="258.9" stroke="#231f20" stroke-width="1"/>
<text x="505.3" y="267.24" font-size="6.5" text-anchor="end" textLength="17" lengthAdjust="spacingAndGlyphs" fill="#231f20" transform="rotate(-45 505.3 265)">20000</text>
<rect x="434.6" y="184" width="75.6" height="72.3" fill="none" stroke="#231f20" stroke-width="1.4"/>
</g>
<g>
<path d="M222.36,338.1 C222.53,338.22 223,338.64 223.42,338.8 C223.85,338.97 224.31,339.12 224.9,339.1 C225.5,339.08 226.12,339.12 226.98,338.69 C227.84,338.26 228.98,337.48 230.06,336.52 C231.13,335.56 232.34,334.24 233.44,332.94 C234.53,331.64 235.75,330.04 236.64,328.72 C237.52,327.4 237.88,326.85 238.77,325.03 C239.66,323.2 240.92,320.33 241.97,317.76 C243.01,315.19 244.03,312 245.05,309.61 C246.07,307.21 247.07,305.17 248.07,303.39 C249.07,301.62 250.05,300.11 251.03,298.94 C252.02,297.77 253.01,296.99 254,296.36 C254.98,295.72 255.99,295.43 256.96,295.13 C257.93,294.82 258.76,294.61 259.8,294.54 C260.85,294.47 262.67,294.69 263.24,294.72" fill="none" stroke="#8dc63f" stroke-width="1.15"/>
<path d="M224.9,347.19 C225.42,346.86 226.79,345.86 227.98,345.19 C229.18,344.53 230.7,343.79 232.07,343.2 C233.45,342.61 234.68,342.07 236.22,341.68 C237.76,341.29 239.61,340.94 241.32,340.86 C243.02,340.77 244.76,340.85 246.47,341.15 C248.18,341.45 249.84,342.15 251.57,342.67 C253.3,343.2 255.12,343.83 256.84,344.32 C258.56,344.8 260.25,345.26 261.88,345.6 C263.51,345.95 265.19,346.21 266.62,346.37 C268.05,346.52 269.18,346.6 270.47,346.54 C271.76,346.48 273.06,346.35 274.38,346.02 C275.7,345.68 277.08,345.09 278.41,344.55 C279.74,344.01 281.06,343.46 282.38,342.79 C283.7,342.13 285.15,341.3 286.35,340.56 C287.54,339.83 288.68,339.01 289.55,338.39 C290.42,337.78 291.23,337.12 291.56,336.87" fill="none" stroke="#9a9a9a" stroke-width="1.15"/>
<rect x="247.58" y="313.16" width="1.7" height="1.7" fill="#dc5281"/>
<rect x="248.94" y="313.16" width="1.7" height="1.7" fill="#de5374"/>
<rect x="248.7" y="317.9" width="1.7" height="1.7" fill="#dc5281"/>
<rect x="252.97" y="318.14" width="1.7" height="1.7" fill="#df536e"/>
<rect x="253.74" y="318.31" width="1.7" height="1.7" fill="#e05669"/>
<rect x="250.3" y="321.3" width="1.7" height="1.7" fill="#dd5376"/>
<rect x="250.95" y="322.07" width="1.7" height="1.7" fill="#e05768"/>
<rect x="250.78" y="322.89" width="1.7" height="1.7" fill="#df536b"/>
<rect x="254.81" y="322.3" width="1.7" height="1.7" fill="#de5371"/>
<rect x="253.09" y="322.89" width="1.7" height="1.7" fill="#dd5376"/>
<rect x="249.53" y="324.7" width="1.7" height="1.7" fill="#e0556a"/>
<rect x="250.54" y="324.41" width="1.7" height="1.7" fill="#e05768"/>
<rect x="248.94" y="327.58" width="1.7" height="1.7" fill="#dd527e"/>
<rect x="248.41" y="328.16" width="1.7" height="1.7" fill="#b95aaf"/>
<rect x="247.93" y="328.93" width="1.7" height="1.7" fill="#9b5caf"/>
<rect x="248.17" y="331.39" width="1.7" height="1.7" fill="#9e5caf"/>
<rect x="250.72" y="331.15" width="1.7" height="1.7" fill="#b75aaf"/>
<rect x="251.13" y="331.92" width="1.7" height="1.7" fill="#b35aaf"/>
<rect x="258.3" y="330.51" width="1.7" height="1.7" fill="#b05aaf"/>
<rect x="249.53" y="334.55" width="1.7" height="1.7" fill="#aa5aaf"/>
<rect x="258.3" y="335.49" width="1.7" height="1.7" fill="#ac5aaf"/>
<rect x="261.98" y="334.85" width="1.7" height="1.7" fill="#ae5aaf"/>
<rect x="250.54" y="337.84" width="1.7" height="1.7" fill="#ab5aaf"/>
<rect x="253.98" y="338.01" width="1.7" height="1.7" fill="#9c5caf"/>
<rect x="259.96" y="338.25" width="1.7" height="1.7" fill="#b15aaf"/>
<rect x="275.9" y="338.66" width="1.7" height="1.7" fill="#b45aaf"/>
<rect x="274.24" y="341.82" width="1.7" height="1.7" fill="#a75baf"/>
<line x1="216.4" y1="298" x2="219" y2="298" stroke="#231f20" stroke-width="1"/>
<text x="213.4" y="300.24" font-size="6.5" text-anchor="end" textLength="17" lengthAdjust="spacingAndGlyphs">20000</text>
<line x1="216.4" y1="314.65" x2="219" y2="314.65" stroke="#231f20" stroke-width="1"/>
<text x="213.4" y="316.89" font-size="6.5" text-anchor="end" textLength="17" lengthAdjust="spacingAndGlyphs">10000</text>
<line x1="216.4" y1="331.3" x2="219" y2="331.3" stroke="#231f20" stroke-width="1"/>
<text x="213.4" y="333.54" font-size="6.5" text-anchor="end" textLength="3.5" lengthAdjust="spacingAndGlyphs">0</text>
<line x1="216.4" y1="347.95" x2="219" y2="347.95" stroke="#231f20" stroke-width="1"/>
<text x="213.4" y="350.19" font-size="6.5" text-anchor="end" textLength="19" lengthAdjust="spacingAndGlyphs">-10000</text>
<line x1="222" y1="359.3" x2="222" y2="361.9" stroke="#231f20" stroke-width="1"/>
<text x="223.1" y="370.24" font-size="6.5" text-anchor="end" textLength="19" lengthAdjust="spacingAndGlyphs" fill="#231f20" transform="rotate(-45 223.1 368)">-20000</text>
<line x1="238.65" y1="359.3" x2="238.65" y2="361.9" stroke="#231f20" stroke-width="1"/>
<text x="239.75" y="370.24" font-size="6.5" text-anchor="end" textLength="19" lengthAdjust="spacingAndGlyphs" fill="#231f20" transform="rotate(-45 239.75 368)">-10000</text>
<line x1="255.3" y1="359.3" x2="255.3" y2="361.9" stroke="#231f20" stroke-width="1"/>
<text x="256.4" y="370.24" font-size="6.5" text-anchor="end" textLength="3.5" lengthAdjust="spacingAndGlyphs" fill="#231f20" transform="rotate(-45 256.4 368)">0</text>
<line x1="271.95" y1="359.3" x2="271.95" y2="361.9" stroke="#231f20" stroke-width="1"/>
<text x="273.05" y="370.24" font-size="6.5" text-anchor="end" textLength="17" lengthAdjust="spacingAndGlyphs" fill="#231f20" transform="rotate(-45 273.05 368)">10000</text>
<line x1="288.6" y1="359.3" x2="288.6" y2="361.9" stroke="#231f20" stroke-width="1"/>
<text x="289.7" y="370.24" font-size="6.5" text-anchor="end" textLength="17" lengthAdjust="spacingAndGlyphs" fill="#231f20" transform="rotate(-45 289.7 368)">20000</text>
<rect x="219" y="287" width="75.6" height="72.3" fill="none" stroke="#231f20" stroke-width="1.4"/>
</g>
<g>
<path d="M329.96,338.1 C330.13,338.22 330.6,338.64 331.02,338.8 C331.45,338.97 331.91,339.12 332.5,339.1 C333.1,339.08 333.72,339.12 334.58,338.69 C335.44,338.26 336.58,337.48 337.66,336.52 C338.73,335.56 339.94,334.24 341.04,332.94 C342.13,331.64 343.35,330.04 344.24,328.72 C345.12,327.4 345.48,326.85 346.37,325.03 C347.26,323.2 348.52,320.33 349.57,317.76 C350.61,315.19 351.63,312 352.65,309.61 C353.67,307.21 354.67,305.17 355.67,303.39 C356.67,301.62 357.65,300.11 358.63,298.94 C359.62,297.77 360.61,296.99 361.6,296.36 C362.58,295.72 363.59,295.43 364.56,295.13 C365.53,294.82 366.36,294.61 367.4,294.54 C368.45,294.47 370.27,294.69 370.84,294.72" fill="none" stroke="#8dc63f" stroke-width="1.15"/>
<path d="M332.5,347.19 C333.02,346.86 334.39,345.86 335.58,345.19 C336.78,344.53 338.3,343.79 339.67,343.2 C341.05,342.61 342.28,342.07 343.82,341.68 C345.36,341.29 347.21,340.94 348.92,340.86 C350.62,340.77 352.36,340.85 354.07,341.15 C355.78,341.45 357.44,342.15 359.17,342.67 C360.9,343.2 362.72,343.83 364.44,344.32 C366.16,344.8 367.85,345.26 369.48,345.6 C371.11,345.95 372.79,346.21 374.22,346.37 C375.65,346.52 376.78,346.6 378.07,346.54 C379.36,346.48 380.66,346.35 381.98,346.02 C383.3,345.68 384.68,345.09 386.01,344.55 C387.34,344.01 388.66,343.46 389.98,342.79 C391.3,342.13 392.75,341.3 393.95,340.56 C395.14,339.83 396.28,339.01 397.15,338.39 C398.02,337.78 398.83,337.12 399.16,336.87" fill="none" stroke="#9a9a9a" stroke-width="1.15"/>
<rect x="355.18" y="313.16" width="1.7" height="1.7" fill="#e15d64"/>
<rect x="356.54" y="313.16" width="1.7" height="1.7" fill="#e15b64"/>
<rect x="356.3" y="317.9" width="1.7" height="1.7" fill="#de5374"/>
<rect x="360.57" y="318.14" width="1.7" height="1.7" fill="#e05669"/>
<rect x="361.34" y="318.31" width="1.7" height="1.7" fill="#e05569"/>
<rect x="357.9" y="321.3" width="1.7" height="1.7" fill="#e2625f"/>
<rect x="358.55" y="322.07" width="1.7" height="1.7" fill="#e05867"/>
<rect x="358.38" y="322.89" width="1.7" height="1.7" fill="#e05569"/>
<rect x="362.41" y="322.3" width="1.7" height="1.7" fill="#e2625f"/>
<rect x="360.69" y="322.89" width="1.7" height="1.7" fill="#e0546a"/>
<rect x="357.13" y="324.7" width="1.7" height="1.7" fill="#df536b"/>
<rect x="358.14" y="324.41" width="1.7" height="1.7" fill="#e26160"/>
<rect x="356.54" y="327.58" width="1.7" height="1.7" fill="#df536b"/>
<rect x="356.01" y="328.16" width="1.7" height="1.7" fill="#e05767"/>
<rect x="355.53" y="328.93" width="1.7" height="1.7" fill="#df536c"/>
<rect x="355.77" y="331.39" width="1.7" height="1.7" fill="#ac5aaf"/>
<rect x="358.32" y="331.15" width="1.7" height="1.7" fill="#9b5caf"/>
<rect x="358.73" y="331.92" width="1.7" height="1.7" fill="#9a5caf"/>
<rect x="365.9" y="330.51" width="1.7" height="1.7" fill="#bb59af"/>
<rect x="357.13" y="334.55" width="1.7" height="1.7" fill="#ba59af"/>
<rect x="365.9" y="335.49" width="1.7" height="1.7" fill="#9d5caf"/>
<rect x="369.58" y="334.85" width="1.7" height="1.7" fill="#8f5daf"/>
<rect x="358.14" y="337.84" width="1.7" height="1.7" fill="#b15aaf"/>
<rect x="361.58" y="338.01" width="1.7" height="1.7" fill="#a75baf"/>
<rect x="367.56" y="338.25" width="1.7" height="1.7" fill="#a15baf"/>
<rect x="383.5" y="338.66" width="1.7" height="1.7" fill="#ae5aaf"/>
<rect x="381.84" y="341.82" width="1.7" height="1.7" fill="#ac5aaf"/>
<line x1="324" y1="298" x2="326.6" y2="298" stroke="#231f20" stroke-width="1"/>
<text x="321" y="300.24" font-size="6.5" text-anchor="end" textLength="17" lengthAdjust="spacingAndGlyphs">20000</text>
<line x1="324" y1="314.65" x2="326.6" y2="314.65" stroke="#231f20" stroke-width="1"/>
<text x="321" y="316.89" font-size="6.5" text-anchor="end" textLength="17" lengthAdjust="spacingAndGlyphs">10000</text>
<line x1="324" y1="331.3" x2="326.6" y2="331.3" stroke="#231f20" stroke-width="1"/>
<text x="321" y="333.54" font-size="6.5" text-anchor="end" textLength="3.5" lengthAdjust="spacingAndGlyphs">0</text>
<line x1="324" y1="347.95" x2="326.6" y2="347.95" stroke="#231f20" stroke-width="1"/>
<text x="321" y="350.19" font-size="6.5" text-anchor="end" textLength="19" lengthAdjust="spacingAndGlyphs">-10000</text>
<line x1="329.6" y1="359.3" x2="329.6" y2="361.9" stroke="#231f20" stroke-width="1"/>
<text x="330.7" y="370.24" font-size="6.5" text-anchor="end" textLength="19" lengthAdjust="spacingAndGlyphs" fill="#231f20" transform="rotate(-45 330.7 368)">-20000</text>
<line x1="346.25" y1="359.3" x2="346.25" y2="361.9" stroke="#231f20" stroke-width="1"/>
<text x="347.35" y="370.24" font-size="6.5" text-anchor="end" textLength="19" lengthAdjust="spacingAndGlyphs" fill="#231f20" transform="rotate(-45 347.35 368)">-10000</text>
<line x1="362.9" y1="359.3" x2="362.9" y2="361.9" stroke="#231f20" stroke-width="1"/>
<text x="364" y="370.24" font-size="6.5" text-anchor="end" textLength="3.5" lengthAdjust="spacingAndGlyphs" fill="#231f20" transform="rotate(-45 364 368)">0</text>
<line x1="379.55" y1="359.3" x2="379.55" y2="361.9" stroke="#231f20" stroke-width="1"/>
<text x="380.65" y="370.24" font-size="6.5" text-anchor="end" textLength="17" lengthAdjust="spacingAndGlyphs" fill="#231f20" transform="rotate(-45 380.65 368)">10000</text>
<line x1="396.2" y1="359.3" x2="396.2" y2="361.9" stroke="#231f20" stroke-width="1"/>
<text x="397.3" y="370.24" font-size="6.5" text-anchor="end" textLength="17" lengthAdjust="spacingAndGlyphs" fill="#231f20" transform="rotate(-45 397.3 368)">20000</text>
<rect x="326.6" y="287" width="75.6" height="72.3" fill="none" stroke="#231f20" stroke-width="1.4"/>
</g>
<g>
<path d="M437.96,338.1 C438.13,338.22 438.6,338.64 439.02,338.8 C439.45,338.97 439.91,339.12 440.5,339.1 C441.1,339.08 441.72,339.12 442.58,338.69 C443.44,338.26 444.58,337.48 445.66,336.52 C446.73,335.56 447.94,334.24 449.04,332.94 C450.13,331.64 451.35,330.04 452.24,328.72 C453.12,327.4 453.48,326.85 454.37,325.03 C455.26,323.2 456.52,320.33 457.57,317.76 C458.61,315.19 459.63,312 460.65,309.61 C461.67,307.21 462.67,305.17 463.67,303.39 C464.67,301.62 465.65,300.11 466.63,298.94 C467.62,297.77 468.61,296.99 469.6,296.36 C470.58,295.72 471.59,295.43 472.56,295.13 C473.53,294.82 474.36,294.61 475.4,294.54 C476.45,294.47 478.27,294.69 478.84,294.72" fill="none" stroke="#8dc63f" stroke-width="1.15"/>
<path d="M440.5,347.19 C441.02,346.86 442.39,345.86 443.58,345.19 C444.78,344.53 446.3,343.79 447.67,343.2 C449.05,342.61 450.28,342.07 451.82,341.68 C453.36,341.29 455.21,340.94 456.92,340.86 C458.62,340.77 460.36,340.85 462.07,341.15 C463.78,341.45 465.44,342.15 467.17,342.67 C468.9,343.2 470.72,343.83 472.44,344.32 C474.16,344.8 475.85,345.26 477.48,345.6 C479.11,345.95 480.79,346.21 482.22,346.37 C483.65,346.52 484.78,346.6 486.07,346.54 C487.36,346.48 488.66,346.35 489.98,346.02 C491.3,345.68 492.68,345.09 494.01,344.55 C495.34,344.01 496.66,343.46 497.98,342.79 C499.3,342.13 500.75,341.3 501.95,340.56 C503.14,339.83 504.28,339.01 505.15,338.39 C506.02,337.78 506.83,337.12 507.16,336.87" fill="none" stroke="#9a9a9a" stroke-width="1.15"/>
<rect x="463.18" y="313.16" width="1.7" height="1.7" fill="#9c5caf"/>
<rect x="464.54" y="313.16" width="1.7" height="1.7" fill="#9a5caf"/>
<rect x="464.3" y="317.9" width="1.7" height="1.7" fill="#8f5daf"/>
<rect x="468.57" y="318.14" width="1.7" height="1.7" fill="#9d5caf"/>
<rect x="469.34" y="318.31" width="1.7" height="1.7" fill="#995caf"/>
<rect x="465.9" y="321.3" width="1.7" height="1.7" fill="#875dae"/>
<rect x="466.55" y="322.07" width="1.7" height="1.7" fill="#aa5aaf"/>
<rect x="466.38" y="322.89" width="1.7" height="1.7" fill="#905daf"/>
<rect x="470.41" y="322.3" width="1.7" height="1.7" fill="#885daf"/>
<rect x="468.69" y="322.89" width="1.7" height="1.7" fill="#9c5caf"/>
<rect x="465.13" y="324.7" width="1.7" height="1.7" fill="#a05caf"/>
<rect x="466.14" y="324.41" width="1.7" height="1.7" fill="#865dae"/>
<rect x="464.54" y="327.58" width="1.7" height="1.7" fill="#dd527d"/>
<rect x="464.01" y="328.16" width="1.7" height="1.7" fill="#dd527b"/>
<rect x="463.53" y="328.93" width="1.7" height="1.7" fill="#dc5283"/>
<rect x="463.77" y="331.39" width="1.7" height="1.7" fill="#db528a"/>
<rect x="466.32" y="331.15" width="1.7" height="1.7" fill="#dd5279"/>
<rect x="466.73" y="331.92" width="1.7" height="1.7" fill="#dd5280"/>
<rect x="473.9" y="330.51" width="1.7" height="1.7" fill="#dd5280"/>
<rect x="465.13" y="334.55" width="1.7" height="1.7" fill="#db528d"/>
<rect x="473.9" y="335.49" width="1.7" height="1.7" fill="#dc5283"/>
<rect x="477.58" y="334.85" width="1.7" height="1.7" fill="#db528e"/>
<rect x="466.14" y="337.84" width="1.7" height="1.7" fill="#dd527b"/>
<rect x="469.58" y="338.01" width="1.7" height="1.7" fill="#dd5280"/>
<rect x="475.56" y="338.25" width="1.7" height="1.7" fill="#db5288"/>
<rect x="491.5" y="338.66" width="1.7" height="1.7" fill="#db528f"/>
<rect x="489.84" y="341.82" width="1.7" height="1.7" fill="#dc5283"/>
<line x1="432" y1="298" x2="434.6" y2="298" stroke="#231f20" stroke-width="1"/>
<text x="429" y="300.24" font-size="6.5" text-anchor="end" textLength="17" lengthAdjust="spacingAndGlyphs">20000</text>
<line x1="432" y1="314.65" x2="434.6" y2="314.65" stroke="#231f20" stroke-width="1"/>
<text x="429" y="316.89" font-size="6.5" text-anchor="end" textLength="17" lengthAdjust="spacingAndGlyphs">10000</text>
<line x1="432" y1="331.3" x2="434.6" y2="331.3" stroke="#231f20" stroke-width="1"/>
<text x="429" y="333.54" font-size="6.5" text-anchor="end" textLength="3.5" lengthAdjust="spacingAndGlyphs">0</text>
<line x1="432" y1="347.95" x2="434.6" y2="347.95" stroke="#231f20" stroke-width="1"/>
<text x="429" y="350.19" font-size="6.5" text-anchor="end" textLength="19" lengthAdjust="spacingAndGlyphs">-10000</text>
<line x1="437.6" y1="359.3" x2="437.6" y2="361.9" stroke="#231f20" stroke-width="1"/>
<text x="438.7" y="370.24" font-size="6.5" text-anchor="end" textLength="19" lengthAdjust="spacingAndGlyphs" fill="#231f20" transform="rotate(-45 438.7 368)">-20000</text>
<line x1="454.25" y1="359.3" x2="454.25" y2="361.9" stroke="#231f20" stroke-width="1"/>
<text x="455.35" y="370.24" font-size="6.5" text-anchor="end" textLength="19" lengthAdjust="spacingAndGlyphs" fill="#231f20" transform="rotate(-45 455.35 368)">-10000</text>
<line x1="470.9" y1="359.3" x2="470.9" y2="361.9" stroke="#231f20" stroke-width="1"/>
<text x="472" y="370.24" font-size="6.5" text-anchor="end" textLength="3.5" lengthAdjust="spacingAndGlyphs" fill="#231f20" transform="rotate(-45 472 368)">0</text>
<line x1="487.55" y1="359.3" x2="487.55" y2="361.9" stroke="#231f20" stroke-width="1"/>
<text x="488.65" y="370.24" font-size="6.5" text-anchor="end" textLength="17" lengthAdjust="spacingAndGlyphs" fill="#231f20" transform="rotate(-45 488.65 368)">10000</text>
<line x1="504.2" y1="359.3" x2="504.2" y2="361.9" stroke="#231f20" stroke-width="1"/>
<text x="505.3" y="370.24" font-size="6.5" text-anchor="end" textLength="17" lengthAdjust="spacingAndGlyphs" fill="#231f20" transform="rotate(-45 505.3 368)">20000</text>
<rect x="434.6" y="287" width="75.6" height="72.3" fill="none" stroke="#231f20" stroke-width="1.4"/>
</g>
<text x="256.5" y="178.72" font-size="8.5" text-anchor="middle" textLength="17.5" lengthAdjust="spacingAndGlyphs">KLF1</text>
<text x="364" y="178.72" font-size="8.5" text-anchor="middle" textLength="25.5" lengthAdjust="spacingAndGlyphs">GATA1</text>
<text x="472.4" y="178.72" font-size="8.5" text-anchor="middle" textLength="26.6" lengthAdjust="spacingAndGlyphs">CEBPA</text>
<text x="185.4" y="223.86" font-size="8.6" text-anchor="middle" textLength="41" lengthAdjust="spacingAndGlyphs" transform="rotate(-90 185.4 220.9)">Expression</text>
<text x="185.5" y="325.96" font-size="8.6" text-anchor="middle" textLength="27.6" lengthAdjust="spacingAndGlyphs" transform="rotate(-90 185.5 323)">Activity</text>
<text x="181.5" y="181.7" font-size="11.6" font-weight="bold" fill="#000">E</text>
<rect x="273.2" y="196.3" width="4.4" height="23.1" fill="url(#cbg)"/>
<line x1="273.2" y1="203.7" x2="277.6" y2="203.7" stroke="rgba(255,255,255,0.7)" stroke-width="0.8" stroke-dasharray="1.2 0.5"/>
<line x1="273.2" y1="211.5" x2="277.6" y2="211.5" stroke="rgba(255,255,255,0.7)" stroke-width="0.8" stroke-dasharray="1.2 0.5"/>
<line x1="275.4" y1="196.3" x2="275.4" y2="219.4" stroke="rgba(255,255,255,0.18)" stroke-width="0.5"/>
<text x="278.3" y="192.13" font-size="5.6" text-anchor="middle" textLength="11.4" lengthAdjust="spacingAndGlyphs">KLF1</text>
<text x="280" y="205.7" font-size="5.8" textLength="8.7" lengthAdjust="spacingAndGlyphs">200</text>
<text x="280" y="213.5" font-size="5.8" textLength="8.7" lengthAdjust="spacingAndGlyphs">100</text>
<rect x="380" y="196.2" width="4.6" height="23.5" fill="url(#cbg)"/>
<line x1="380" y1="198.9" x2="384.6" y2="198.9" stroke="rgba(255,255,255,0.7)" stroke-width="0.8" stroke-dasharray="1.2 0.5"/>
<line x1="380" y1="205.8" x2="384.6" y2="205.8" stroke="rgba(255,255,255,0.7)" stroke-width="0.8" stroke-dasharray="1.2 0.5"/>
<line x1="380" y1="212.3" x2="384.6" y2="212.3" stroke="rgba(255,255,255,0.7)" stroke-width="0.8" stroke-dasharray="1.2 0.5"/>
<line x1="382.3" y1="196.2" x2="382.3" y2="219.7" stroke="rgba(255,255,255,0.18)" stroke-width="0.5"/>
<text x="387.9" y="191.63" font-size="5.6" text-anchor="middle" textLength="16.7" lengthAdjust="spacingAndGlyphs">GATA1</text>
<text x="385.8" y="200.9" font-size="5.8" textLength="10" lengthAdjust="spacingAndGlyphs">300</text>
<text x="385.8" y="207.8" font-size="5.8" textLength="10" lengthAdjust="spacingAndGlyphs">200</text>
<text x="385.8" y="214.3" font-size="5.8" textLength="10" lengthAdjust="spacingAndGlyphs">100</text>
<rect x="488" y="197.1" width="4.3" height="22.5" fill="url(#cbg)"/>
<line x1="488" y1="201.3" x2="492.3" y2="201.3" stroke="rgba(255,255,255,0.7)" stroke-width="0.8" stroke-dasharray="1.2 0.5"/>
<line x1="488" y1="207.1" x2="492.3" y2="207.1" stroke="rgba(255,255,255,0.7)" stroke-width="0.8" stroke-dasharray="1.2 0.5"/>
<line x1="488" y1="212.9" x2="492.3" y2="212.9" stroke="rgba(255,255,255,0.7)" stroke-width="0.8" stroke-dasharray="1.2 0.5"/>
<line x1="490.15" y1="197.1" x2="490.15" y2="219.6" stroke="rgba(255,255,255,0.18)" stroke-width="0.5"/>
<text x="496" y="192.33" font-size="5.6" text-anchor="middle" textLength="16.5" lengthAdjust="spacingAndGlyphs">CEBPA</text>
<text x="495.5" y="203.3" font-size="5.8" textLength="5.6" lengthAdjust="spacingAndGlyphs">75</text>
<text x="495.5" y="209.1" font-size="5.8" textLength="5.6" lengthAdjust="spacingAndGlyphs">50</text>
<text x="495.5" y="214.9" font-size="5.8" textLength="5.6" lengthAdjust="spacingAndGlyphs">25</text>
<rect x="276.7" y="298.5" width="4.6" height="23.3" fill="url(#cbg)"/>
<line x1="276.7" y1="303" x2="281.3" y2="303" stroke="rgba(255,255,255,0.7)" stroke-width="0.8" stroke-dasharray="1.2 0.5"/>
<line x1="276.7" y1="307.7" x2="281.3" y2="307.7" stroke="rgba(255,255,255,0.7)" stroke-width="0.8" stroke-dasharray="1.2 0.5"/>
<line x1="276.7" y1="312.3" x2="281.3" y2="312.3" stroke="rgba(255,255,255,0.7)" stroke-width="0.8" stroke-dasharray="1.2 0.5"/>
<line x1="276.7" y1="317" x2="281.3" y2="317" stroke="rgba(255,255,255,0.7)" stroke-width="0.8" stroke-dasharray="1.2 0.5"/>
<line x1="279" y1="298.5" x2="279" y2="321.8" stroke="rgba(255,255,255,0.18)" stroke-width="0.5"/>
<text x="282.4" y="294.23" font-size="5.6" text-anchor="middle" textLength="11.4" lengthAdjust="spacingAndGlyphs">KLF1</text>
<text x="285.4" y="303.58" font-size="4.6" text-anchor="middle" transform="rotate(-90 285.4 302)">4</text>
<text x="285.4" y="307.48" font-size="4.6" text-anchor="middle" transform="rotate(-90 285.4 305.9)">2</text>
<text x="285.4" y="312.68" font-size="4.6" text-anchor="middle" transform="rotate(-90 285.4 311.1)">0</text>
<text x="285.4" y="317.58" font-size="4.6" text-anchor="middle" transform="rotate(-90 285.4 316)">-2</text>
<text x="285.4" y="321.58" font-size="4.6" text-anchor="middle" transform="rotate(-90 285.4 320)">-4</text>
<rect x="383.4" y="299.2" width="4.5" height="22.8" fill="url(#cbg)"/>
<line x1="383.4" y1="301" x2="387.9" y2="301" stroke="rgba(255,255,255,0.7)" stroke-width="0.8" stroke-dasharray="1.2 0.5"/>
<line x1="383.4" y1="306" x2="387.9" y2="306" stroke="rgba(255,255,255,0.7)" stroke-width="0.8" stroke-dasharray="1.2 0.5"/>
<line x1="383.4" y1="311" x2="387.9" y2="311" stroke="rgba(255,255,255,0.7)" stroke-width="0.8" stroke-dasharray="1.2 0.5"/>
<line x1="383.4" y1="316.3" x2="387.9" y2="316.3" stroke="rgba(255,255,255,0.7)" stroke-width="0.8" stroke-dasharray="1.2 0.5"/>
<line x1="385.65" y1="299.2" x2="385.65" y2="322" stroke="rgba(255,255,255,0.18)" stroke-width="0.5"/>
<text x="391.5" y="295.13" font-size="5.6" text-anchor="middle" textLength="15.8" lengthAdjust="spacingAndGlyphs">GATA1</text>
<text x="390.6" y="303" font-size="5.8" textLength="3" lengthAdjust="spacingAndGlyphs">4</text>
<text x="390.6" y="308" font-size="5.8" textLength="3" lengthAdjust="spacingAndGlyphs">2</text>
<text x="390.6" y="313" font-size="5.8" textLength="3" lengthAdjust="spacingAndGlyphs">0</text>
<text x="390.6" y="318.3" font-size="5.8" textLength="5" lengthAdjust="spacingAndGlyphs">-2</text>
<rect x="486" y="299.1" width="4.8" height="22.6" fill="url(#cbg)"/>
<line x1="486" y1="305.5" x2="490.8" y2="305.5" stroke="rgba(255,255,255,0.7)" stroke-width="0.8" stroke-dasharray="1.2 0.5"/>
<line x1="486" y1="311.9" x2="490.8" y2="311.9" stroke="rgba(255,255,255,0.7)" stroke-width="0.8" stroke-dasharray="1.2 0.5"/>
<line x1="486" y1="318.2" x2="490.8" y2="318.2" stroke="rgba(255,255,255,0.7)" stroke-width="0.8" stroke-dasharray="1.2 0.5"/>
<line x1="488.4" y1="299.1" x2="488.4" y2="321.7" stroke="rgba(255,255,255,0.18)" stroke-width="0.5"/>
<text x="494.4" y="294.73" font-size="5.6" text-anchor="middle" textLength="16.9" lengthAdjust="spacingAndGlyphs">CEBPA</text>
<text x="493.7" y="307.56" font-size="6" textLength="3.1" lengthAdjust="spacingAndGlyphs">5</text>
<text x="493.7" y="313.56" font-size="6" textLength="3.1" lengthAdjust="spacingAndGlyphs">0</text>
<text x="493.7" y="320.46" font-size="6" textLength="5.2" lengthAdjust="spacingAndGlyphs">-5</text>
<path d="M187.3,389.8 V360.5 M187.3,389.8 H209.5" stroke="#231f20" stroke-width="1.1" fill="none"/>
<path d="M185.2,361 L187.3,355.2 L189.4,361 Z" fill="#231f20"/>
<path d="M209,387.7 L214.6,389.8 L209,391.9 Z" fill="#231f20"/>
<text x="179.6" y="375.39" font-size="8.4" text-anchor="middle" textLength="11.6" lengthAdjust="spacingAndGlyphs" transform="rotate(-90 179.6 372.5)">PC2</text>
<text x="197.7" y="397.89" font-size="8.4" text-anchor="middle" textLength="11.6" lengthAdjust="spacingAndGlyphs">PC1</text>
<g>
<rect x="57.3" y="485" width="2" height="3.7" fill="#284a8c"/>
<rect x="59.8" y="484" width="2" height="4.7" fill="#284a8c"/>
<rect x="62.3" y="477.4" width="2" height="11.3" fill="#284a8c"/>
<rect x="64.8" y="479.8" width="2" height="8.9" fill="#284a8c"/>
<rect x="67.3" y="488" width="2" height="0.7" fill="#a9b8da"/>
<rect x="69.8" y="488" width="2" height="0.7" fill="#a9b8da"/>
<rect x="72.3" y="488" width="2" height="0.7" fill="#a9b8da"/>
<rect x="74.8" y="485" width="2" height="3.7" fill="#284a8c"/>
<rect x="77.3" y="488" width="2" height="0.7" fill="#a9b8da"/>
<rect x="79.8" y="479.1" width="2" height="9.6" fill="#284a8c"/>
<rect x="82.3" y="443.6" width="2" height="45.1" fill="#b5122e"/>
<rect x="84.8" y="486" width="2" height="2.7" fill="#284a8c"/>
<rect x="87.3" y="465" width="2" height="23.7" fill="#284a8c"/>
<rect x="89.8" y="477.4" width="2" height="11.3" fill="#284a8c"/>
<rect x="92.3" y="467.5" width="2" height="21.2" fill="#284a8c"/>
<rect x="94.8" y="454.3" width="2" height="34.4" fill="#284a8c"/>
<rect x="97.3" y="488" width="2" height="0.7" fill="#a9b8da"/>
<rect x="99.8" y="488" width="2" height="0.7" fill="#a9b8da"/>
<rect x="102.3" y="488" width="2" height="0.7" fill="#a9b8da"/>
<rect x="104.8" y="485" width="2" height="3.7" fill="#284a8c"/>
<rect x="107.3" y="487.3" width="2" height="1.4" fill="#284a8c"/>
<rect x="109.8" y="480.9" width="2" height="7.8" fill="#284a8c"/>
<rect x="112.3" y="480.9" width="2" height="7.8" fill="#284a8c"/>
<rect x="114.8" y="468" width="2" height="20.7" fill="#284a8c"/>
<rect x="117.3" y="488" width="2" height="0.7" fill="#a9b8da"/>
<rect x="119.8" y="481.2" width="2" height="7.5" fill="#284a8c"/>
<rect x="122.3" y="460.2" width="2" height="28.5" fill="#284a8c"/>
<rect x="124.8" y="488" width="2" height="0.7" fill="#a9b8da"/>
<rect x="127.3" y="469.7" width="2" height="19" fill="#284a8c"/>
<rect x="129.8" y="486.4" width="2" height="2.3" fill="#284a8c"/>
<rect x="132.3" y="473.4" width="2" height="15.3" fill="#284a8c"/>
<rect x="134.8" y="424.2" width="2" height="64.5" fill="#b5122e"/>
<line x1="53.2" y1="454" x2="140.2" y2="454" stroke="#efb7ac" stroke-width="1.4"/>
<line x1="53.2" y1="477.1" x2="140.2" y2="477.1" stroke="#231f20" stroke-width="1.2" stroke-dasharray="2.8 1.8"/>
<line x1="53.2" y1="421.5" x2="53.2" y2="492.6" stroke="#231f20" stroke-width="1.4"/>
<line x1="52.5" y1="492" x2="140.2" y2="492" stroke="#231f20" stroke-width="1.4"/>
<line x1="50.4" y1="424.6" x2="53.2" y2="424.6" stroke="#231f20" stroke-width="1.2"/>
<text x="47.2" y="426.87" font-size="6.6" text-anchor="end" textLength="17" lengthAdjust="spacingAndGlyphs">15000</text>
<line x1="50.4" y1="446" x2="53.2" y2="446" stroke="#231f20" stroke-width="1.2"/>
<text x="47.2" y="448.27" font-size="6.6" text-anchor="end" textLength="17" lengthAdjust="spacingAndGlyphs">10000</text>
<line x1="50.4" y1="467.4" x2="53.2" y2="467.4" stroke="#231f20" stroke-width="1.2"/>
<text x="47.2" y="469.67" font-size="6.6" text-anchor="end" textLength="13.6" lengthAdjust="spacingAndGlyphs">5000</text>
<line x1="50.4" y1="488.7" x2="53.2" y2="488.7" stroke="#231f20" stroke-width="1.2"/>
<text x="47.2" y="490.97" font-size="6.6" text-anchor="end" textLength="3.5" lengthAdjust="spacingAndGlyphs">0</text>
<line x1="55.9" y1="492" x2="55.9" y2="494.6" stroke="#231f20" stroke-width="1.1"/>
<line x1="80.7" y1="492" x2="80.7" y2="494.6" stroke="#231f20" stroke-width="1.1"/>
<line x1="105.5" y1="492" x2="105.5" y2="494.6" stroke="#231f20" stroke-width="1.1"/>
<line x1="130.3" y1="492" x2="130.3" y2="494.6" stroke="#231f20" stroke-width="1.1"/>
</g>
<g>
<rect x="173.7" y="485.6" width="2" height="3.1" fill="#284a8c"/>
<rect x="176.2" y="486.6" width="2" height="2.1" fill="#284a8c"/>
<rect x="178.7" y="478.2" width="2" height="10.5" fill="#284a8c"/>
<rect x="181.2" y="488" width="2" height="0.7" fill="#a9b8da"/>
<rect x="183.7" y="488" width="2" height="0.7" fill="#a9b8da"/>
<rect x="186.2" y="488" width="2" height="0.7" fill="#a9b8da"/>
<rect x="188.7" y="488" width="2" height="0.7" fill="#a9b8da"/>
<rect x="191.2" y="487.3" width="2" height="1.4" fill="#284a8c"/>
<rect x="193.7" y="488" width="2" height="0.7" fill="#a9b8da"/>
<rect x="196.2" y="488" width="2" height="0.7" fill="#a9b8da"/>
<rect x="198.7" y="488" width="2" height="0.7" fill="#a9b8da"/>
<rect x="201.2" y="488" width="2" height="0.7" fill="#a9b8da"/>
<rect x="203.7" y="424" width="2" height="64.7" fill="#b5122e"/>
<rect x="206.2" y="484.6" width="2" height="4.1" fill="#284a8c"/>
<rect x="208.7" y="484.3" width="2" height="4.4" fill="#284a8c"/>
<rect x="211.2" y="476.2" width="2" height="12.5" fill="#284a8c"/>
<rect x="213.7" y="484.8" width="2" height="3.9" fill="#284a8c"/>
<rect x="216.2" y="488" width="2" height="0.7" fill="#a9b8da"/>
<rect x="218.7" y="486" width="2" height="2.7" fill="#284a8c"/>
<rect x="221.2" y="485.5" width="2" height="3.2" fill="#284a8c"/>
<rect x="223.7" y="486.5" width="2" height="2.2" fill="#284a8c"/>
<rect x="226.2" y="486" width="2" height="2.7" fill="#284a8c"/>
<rect x="228.7" y="485.5" width="2" height="3.2" fill="#284a8c"/>
<rect x="231.2" y="486.5" width="2" height="2.2" fill="#284a8c"/>
<rect x="233.7" y="487" width="2" height="1.7" fill="#284a8c"/>
<rect x="236.2" y="488" width="2" height="0.7" fill="#a9b8da"/>
<rect x="238.7" y="480.2" width="2" height="8.5" fill="#284a8c"/>
<rect x="241.2" y="486" width="2" height="2.7" fill="#284a8c"/>
<rect x="243.7" y="487" width="2" height="1.7" fill="#284a8c"/>
<rect x="246.2" y="485.8" width="2" height="2.9" fill="#284a8c"/>
<rect x="248.7" y="486.5" width="2" height="2.2" fill="#284a8c"/>
<rect x="251.2" y="487.6" width="2" height="1.1" fill="#284a8c"/>
<line x1="169.6" y1="471.6" x2="256.6" y2="471.6" stroke="#efb7ac" stroke-width="1.4"/>
<line x1="169.6" y1="484.6" x2="256.6" y2="484.6" stroke="#231f20" stroke-width="1.2" stroke-dasharray="2.8 1.8"/>
<line x1="169.6" y1="421" x2="169.6" y2="492.6" stroke="#231f20" stroke-width="1.4"/>
<line x1="168.9" y1="492" x2="256.6" y2="492" stroke="#231f20" stroke-width="1.4"/>
<line x1="166.8" y1="424.2" x2="169.6" y2="424.2" stroke="#231f20" stroke-width="1.2"/>
<text x="163.6" y="426.47" font-size="6.6" text-anchor="end" textLength="17.5" lengthAdjust="spacingAndGlyphs">25000</text>
<line x1="166.8" y1="437.1" x2="169.6" y2="437.1" stroke="#231f20" stroke-width="1.2"/>
<text x="163.6" y="439.37" font-size="6.6" text-anchor="end" textLength="17.5" lengthAdjust="spacingAndGlyphs">20000</text>
<line x1="166.8" y1="450" x2="169.6" y2="450" stroke="#231f20" stroke-width="1.2"/>
<text x="163.6" y="452.27" font-size="6.6" text-anchor="end" textLength="17.5" lengthAdjust="spacingAndGlyphs">15000</text>
<line x1="166.8" y1="462.9" x2="169.6" y2="462.9" stroke="#231f20" stroke-width="1.2"/>
<text x="163.6" y="465.17" font-size="6.6" text-anchor="end" textLength="17.5" lengthAdjust="spacingAndGlyphs">10000</text>
<line x1="166.8" y1="475.8" x2="169.6" y2="475.8" stroke="#231f20" stroke-width="1.2"/>
<text x="163.6" y="478.07" font-size="6.6" text-anchor="end" textLength="14" lengthAdjust="spacingAndGlyphs">5000</text>
<line x1="166.8" y1="488.7" x2="169.6" y2="488.7" stroke="#231f20" stroke-width="1.2"/>
<text x="163.6" y="490.97" font-size="6.6" text-anchor="end" textLength="3.5" lengthAdjust="spacingAndGlyphs">0</text>
<line x1="172.3" y1="492" x2="172.3" y2="494.6" stroke="#231f20" stroke-width="1.1"/>
<line x1="197.1" y1="492" x2="197.1" y2="494.6" stroke="#231f20" stroke-width="1.1"/>
<line x1="221.9" y1="492" x2="221.9" y2="494.6" stroke="#231f20" stroke-width="1.1"/>
<line x1="246.7" y1="492" x2="246.7" y2="494.6" stroke="#231f20" stroke-width="1.1"/>
</g>
<g>
<rect x="57.3" y="583.6" width="2" height="0.7" fill="#a9b8da"/>
<rect x="59.8" y="583.6" width="2" height="0.7" fill="#a9b8da"/>
<rect x="62.3" y="583.2" width="2" height="1.1" fill="#284a8c"/>
<rect x="64.8" y="583.6" width="2" height="0.7" fill="#a9b8da"/>
<rect x="67.3" y="578.8" width="2" height="5.5" fill="#284a8c"/>
<rect x="69.8" y="583.6" width="2" height="0.7" fill="#a9b8da"/>
<rect x="72.3" y="583" width="2" height="1.3" fill="#284a8c"/>
<rect x="74.8" y="583.6" width="2" height="0.7" fill="#a9b8da"/>
<rect x="77.3" y="583.5" width="2" height="0.8" fill="#284a8c"/>
<rect x="79.8" y="583.6" width="2" height="0.7" fill="#a9b8da"/>
<rect x="82.3" y="583.6" width="2" height="0.7" fill="#a9b8da"/>
<rect x="84.8" y="583.6" width="2" height="0.7" fill="#a9b8da"/>
<rect x="87.3" y="581.4" width="2" height="2.9" fill="#284a8c"/>
<rect x="89.8" y="578" width="2" height="6.3" fill="#284a8c"/>
<rect x="92.3" y="583.6" width="2" height="0.7" fill="#a9b8da"/>
<rect x="94.8" y="582.7" width="2" height="1.6" fill="#284a8c"/>
<rect x="97.3" y="583.6" width="2" height="0.7" fill="#a9b8da"/>
<rect x="99.8" y="583.6" width="2" height="0.7" fill="#a9b8da"/>
<rect x="102.3" y="583.6" width="2" height="0.7" fill="#a9b8da"/>
<rect x="104.8" y="583.6" width="2" height="0.7" fill="#a9b8da"/>
<rect x="107.3" y="583.6" width="2" height="0.7" fill="#a9b8da"/>
<rect x="109.8" y="583.6" width="2" height="0.7" fill="#a9b8da"/>
<rect x="112.3" y="583.6" width="2" height="0.7" fill="#a9b8da"/>
<rect x="114.8" y="583.6" width="2" height="0.7" fill="#a9b8da"/>
<rect x="117.3" y="520.1" width="2" height="64.2" fill="#b5122e"/>
<rect x="119.8" y="583.6" width="2" height="0.7" fill="#a9b8da"/>
<rect x="122.3" y="583.6" width="2" height="0.7" fill="#a9b8da"/>
<rect x="124.8" y="583.6" width="2" height="0.7" fill="#a9b8da"/>
<rect x="127.3" y="582" width="2" height="2.3" fill="#284a8c"/>
<rect x="129.8" y="583.6" width="2" height="0.7" fill="#a9b8da"/>
<rect x="132.3" y="582.5" width="2" height="1.8" fill="#284a8c"/>
<rect x="134.8" y="583.6" width="2" height="0.7" fill="#a9b8da"/>
<line x1="53.2" y1="573.9" x2="140.2" y2="573.9" stroke="#efb7ac" stroke-width="1.4"/>
<line x1="53.2" y1="580.9" x2="140.2" y2="580.9" stroke="#231f20" stroke-width="1.2" stroke-dasharray="2.8 1.8"/>
<line x1="53.2" y1="515.4" x2="53.2" y2="587.6" stroke="#231f20" stroke-width="1.4"/>
<line x1="52.5" y1="587" x2="140.2" y2="587" stroke="#231f20" stroke-width="1.4"/>
<line x1="50.4" y1="518" x2="53.2" y2="518" stroke="#231f20" stroke-width="1.2"/>
<text x="47.2" y="520.27" font-size="6.6" text-anchor="end" textLength="13.6" lengthAdjust="spacingAndGlyphs">1200</text>
<line x1="50.4" y1="534.6" x2="53.2" y2="534.6" stroke="#231f20" stroke-width="1.2"/>
<text x="47.2" y="536.87" font-size="6.6" text-anchor="end" textLength="10.2" lengthAdjust="spacingAndGlyphs">900</text>
<line x1="50.4" y1="551.2" x2="53.2" y2="551.2" stroke="#231f20" stroke-width="1.2"/>
<text x="47.2" y="553.47" font-size="6.6" text-anchor="end" textLength="10.2" lengthAdjust="spacingAndGlyphs">600</text>
<line x1="50.4" y1="567.8" x2="53.2" y2="567.8" stroke="#231f20" stroke-width="1.2"/>
<text x="47.2" y="570.07" font-size="6.6" text-anchor="end" textLength="10.2" lengthAdjust="spacingAndGlyphs">300</text>
<line x1="50.4" y1="584.3" x2="53.2" y2="584.3" stroke="#231f20" stroke-width="1.2"/>
<text x="47.2" y="586.57" font-size="6.6" text-anchor="end" textLength="3.5" lengthAdjust="spacingAndGlyphs">0</text>
<line x1="55.9" y1="587" x2="55.9" y2="589.6" stroke="#231f20" stroke-width="1.1"/>
<line x1="80.7" y1="587" x2="80.7" y2="589.6" stroke="#231f20" stroke-width="1.1"/>
<line x1="105.5" y1="587" x2="105.5" y2="589.6" stroke="#231f20" stroke-width="1.1"/>
<line x1="130.3" y1="587" x2="130.3" y2="589.6" stroke="#231f20" stroke-width="1.1"/>
</g>
<g>
<rect x="173.7" y="576" width="2" height="8.3" fill="#284a8c"/>
<rect x="176.2" y="567.2" width="2" height="17.1" fill="#284a8c"/>
<rect x="178.7" y="576.4" width="2" height="7.9" fill="#284a8c"/>
<rect x="181.2" y="554.6" width="2" height="29.7" fill="#284a8c"/>
<rect x="183.7" y="574.6" width="2" height="9.7" fill="#284a8c"/>
<rect x="186.2" y="564" width="2" height="20.3" fill="#284a8c"/>
<rect x="188.7" y="576" width="2" height="8.3" fill="#284a8c"/>
<rect x="191.2" y="579.6" width="2" height="4.7" fill="#284a8c"/>
<rect x="193.7" y="579.6" width="2" height="4.7" fill="#284a8c"/>
<rect x="196.2" y="557.2" width="2" height="27.1" fill="#284a8c"/>
<rect x="198.7" y="577.2" width="2" height="7.1" fill="#284a8c"/>
<rect x="201.2" y="574.6" width="2" height="9.7" fill="#284a8c"/>
<rect x="203.7" y="555.2" width="2" height="29.1" fill="#284a8c"/>
<rect x="206.2" y="561.3" width="2" height="23" fill="#284a8c"/>
<rect x="208.7" y="520" width="2" height="64.3" fill="#b5122e"/>
<rect x="211.2" y="563" width="2" height="21.3" fill="#284a8c"/>
<rect x="213.7" y="567.4" width="2" height="16.9" fill="#284a8c"/>
<rect x="216.2" y="583.1" width="2" height="1.2" fill="#284a8c"/>
<rect x="218.7" y="573.3" width="2" height="11" fill="#284a8c"/>
<rect x="221.2" y="583.6" width="2" height="0.7" fill="#a9b8da"/>
<rect x="223.7" y="579" width="2" height="5.3" fill="#284a8c"/>
<rect x="226.2" y="570.7" width="2" height="13.6" fill="#284a8c"/>
<rect x="228.7" y="570.1" width="2" height="14.2" fill="#284a8c"/>
<rect x="231.2" y="555.6" width="2" height="28.7" fill="#284a8c"/>
<rect x="233.7" y="573.3" width="2" height="11" fill="#284a8c"/>
<rect x="236.2" y="559.3" width="2" height="25" fill="#284a8c"/>
<rect x="238.7" y="561.5" width="2" height="22.8" fill="#284a8c"/>
<rect x="241.2" y="574.9" width="2" height="9.4" fill="#284a8c"/>
<rect x="243.7" y="575.4" width="2" height="8.9" fill="#284a8c"/>
<rect x="246.2" y="577.8" width="2" height="6.5" fill="#284a8c"/>
<rect x="248.7" y="573.3" width="2" height="11" fill="#284a8c"/>
<rect x="251.2" y="558.3" width="2" height="26" fill="#284a8c"/>
<line x1="169.6" y1="539.7" x2="256.6" y2="539.7" stroke="#efb7ac" stroke-width="1.4"/>
<line x1="169.6" y1="573.3" x2="256.6" y2="573.3" stroke="#231f20" stroke-width="1.2" stroke-dasharray="2.8 1.8"/>
<line x1="169.6" y1="517.1" x2="169.6" y2="587.6" stroke="#231f20" stroke-width="1.4"/>
<line x1="168.9" y1="587" x2="256.6" y2="587" stroke="#231f20" stroke-width="1.4"/>
<line x1="166.8" y1="523.6" x2="169.6" y2="523.6" stroke="#231f20" stroke-width="1.2"/>
<text x="163.6" y="525.87" font-size="6.6" text-anchor="end" textLength="17" lengthAdjust="spacingAndGlyphs">15000</text>
<line x1="166.8" y1="543.9" x2="169.6" y2="543.9" stroke="#231f20" stroke-width="1.2"/>
<text x="163.6" y="546.17" font-size="6.6" text-anchor="end" textLength="17" lengthAdjust="spacingAndGlyphs">10000</text>
<line x1="166.8" y1="564.1" x2="169.6" y2="564.1" stroke="#231f20" stroke-width="1.2"/>
<text x="163.6" y="566.37" font-size="6.6" text-anchor="end" textLength="13.6" lengthAdjust="spacingAndGlyphs">5000</text>
<line x1="166.8" y1="584.3" x2="169.6" y2="584.3" stroke="#231f20" stroke-width="1.2"/>
<text x="163.6" y="586.57" font-size="6.6" text-anchor="end" textLength="3.5" lengthAdjust="spacingAndGlyphs">0</text>
<line x1="172.3" y1="587" x2="172.3" y2="589.6" stroke="#231f20" stroke-width="1.1"/>
<line x1="197.1" y1="587" x2="197.1" y2="589.6" stroke="#231f20" stroke-width="1.1"/>
<line x1="221.9" y1="587" x2="221.9" y2="589.6" stroke="#231f20" stroke-width="1.1"/>
<line x1="246.7" y1="587" x2="246.7" y2="589.6" stroke="#231f20" stroke-width="1.1"/>
</g>
<g>
<rect x="57.3" y="678.9" width="2" height="0.7" fill="#a9b8da"/>
<rect x="59.8" y="678.9" width="2" height="0.7" fill="#a9b8da"/>
<rect x="62.3" y="678.2" width="2" height="1.4" fill="#284a8c"/>
<rect x="64.8" y="678.9" width="2" height="0.7" fill="#a9b8da"/>
<rect x="67.3" y="678.9" width="2" height="0.7" fill="#a9b8da"/>
<rect x="69.8" y="678.9" width="2" height="0.7" fill="#a9b8da"/>
<rect x="72.3" y="678.9" width="2" height="0.7" fill="#a9b8da"/>
<rect x="74.8" y="677.9" width="2" height="1.7" fill="#284a8c"/>
<rect x="77.3" y="678.9" width="2" height="0.7" fill="#a9b8da"/>
<rect x="79.8" y="678.9" width="2" height="0.7" fill="#a9b8da"/>
<rect x="82.3" y="678.9" width="2" height="0.7" fill="#a9b8da"/>
<rect x="84.8" y="678.9" width="2" height="0.7" fill="#a9b8da"/>
<rect x="87.3" y="678.9" width="2" height="0.7" fill="#a9b8da"/>
<rect x="89.8" y="678.9" width="2" height="0.7" fill="#a9b8da"/>
<rect x="92.3" y="677" width="2" height="2.6" fill="#284a8c"/>
<rect x="94.8" y="662.2" width="2" height="17.4" fill="#284a8c"/>
<rect x="97.3" y="678.9" width="2" height="0.7" fill="#a9b8da"/>
<rect x="99.8" y="678.9" width="2" height="0.7" fill="#a9b8da"/>
<rect x="102.3" y="678.9" width="2" height="0.7" fill="#a9b8da"/>
<rect x="104.8" y="657.8" width="2" height="21.8" fill="#284a8c"/>
<rect x="107.3" y="671.3" width="2" height="8.3" fill="#284a8c"/>
<rect x="109.8" y="670.2" width="2" height="9.4" fill="#284a8c"/>
<rect x="112.3" y="615.1" width="2" height="64.5" fill="#b5122e"/>
<rect x="114.8" y="678.9" width="2" height="0.7" fill="#a9b8da"/>
<rect x="117.3" y="678.9" width="2" height="0.7" fill="#a9b8da"/>
<rect x="119.8" y="678.9" width="2" height="0.7" fill="#a9b8da"/>
<rect x="122.3" y="678.9" width="2" height="0.7" fill="#a9b8da"/>
<rect x="124.8" y="678" width="2" height="1.6" fill="#284a8c"/>
<rect x="127.3" y="678.9" width="2" height="0.7" fill="#a9b8da"/>
<rect x="129.8" y="642.4" width="2" height="37.2" fill="#b5122e"/>
<rect x="132.3" y="672.9" width="2" height="6.7" fill="#284a8c"/>
<rect x="134.8" y="630" width="2" height="49.6" fill="#b5122e"/>
<line x1="53.2" y1="651.2" x2="140.2" y2="651.2" stroke="#efb7ac" stroke-width="1.4"/>
<line x1="53.2" y1="672.5" x2="140.2" y2="672.5" stroke="#231f20" stroke-width="1.2" stroke-dasharray="2.8 1.8"/>
<line x1="53.2" y1="611.9" x2="53.2" y2="683" stroke="#231f20" stroke-width="1.4"/>
<line x1="52.5" y1="682.4" x2="140.2" y2="682.4" stroke="#231f20" stroke-width="1.4"/>
<line x1="50.4" y1="633.9" x2="53.2" y2="633.9" stroke="#231f20" stroke-width="1.2"/>
<text x="47.2" y="636.17" font-size="6.6" text-anchor="end" textLength="13.6" lengthAdjust="spacingAndGlyphs">4000</text>
<line x1="50.4" y1="656.7" x2="53.2" y2="656.7" stroke="#231f20" stroke-width="1.2"/>
<text x="47.2" y="658.97" font-size="6.6" text-anchor="end" textLength="13.6" lengthAdjust="spacingAndGlyphs">2000</text>
<line x1="50.4" y1="679.4" x2="53.2" y2="679.4" stroke="#231f20" stroke-width="1.2"/>
<text x="47.2" y="681.67" font-size="6.6" text-anchor="end" textLength="3.5" lengthAdjust="spacingAndGlyphs">0</text>
<line x1="55.9" y1="682.4" x2="55.9" y2="685" stroke="#231f20" stroke-width="1.1"/>
<line x1="80.7" y1="682.4" x2="80.7" y2="685" stroke="#231f20" stroke-width="1.1"/>
<line x1="105.5" y1="682.4" x2="105.5" y2="685" stroke="#231f20" stroke-width="1.1"/>
<line x1="130.3" y1="682.4" x2="130.3" y2="685" stroke="#231f20" stroke-width="1.1"/>
</g>
<g>
<rect x="173.7" y="673.8" width="2" height="5.8" fill="#284a8c"/>
<rect x="176.2" y="668.3" width="2" height="11.3" fill="#284a8c"/>
<rect x="178.7" y="671" width="2" height="8.6" fill="#284a8c"/>
<rect x="181.2" y="667.1" width="2" height="12.5" fill="#284a8c"/>
<rect x="183.7" y="672" width="2" height="7.6" fill="#284a8c"/>
<rect x="186.2" y="665.1" width="2" height="14.5" fill="#284a8c"/>
<rect x="188.7" y="668" width="2" height="11.6" fill="#284a8c"/>
<rect x="191.2" y="676.9" width="2" height="2.7" fill="#284a8c"/>
<rect x="193.7" y="676.5" width="2" height="3.1" fill="#284a8c"/>
<rect x="196.2" y="676.1" width="2" height="3.5" fill="#284a8c"/>
<rect x="198.7" y="672.8" width="2" height="6.8" fill="#284a8c"/>
<rect x="201.2" y="672.8" width="2" height="6.8" fill="#284a8c"/>
<rect x="203.7" y="663.9" width="2" height="15.7" fill="#284a8c"/>
<rect x="206.2" y="676.1" width="2" height="3.5" fill="#284a8c"/>
<rect x="208.7" y="650.2" width="2" height="29.4" fill="#284a8c"/>
<rect x="211.2" y="661.5" width="2" height="18.1" fill="#284a8c"/>
<rect x="213.7" y="674.7" width="2" height="4.9" fill="#284a8c"/>
<rect x="216.2" y="676.1" width="2" height="3.5" fill="#284a8c"/>
<rect x="218.7" y="671" width="2" height="8.6" fill="#284a8c"/>
<rect x="221.2" y="639" width="2" height="40.6" fill="#b5122e"/>
<rect x="223.7" y="673.1" width="2" height="6.5" fill="#284a8c"/>
<rect x="226.2" y="669.2" width="2" height="10.4" fill="#284a8c"/>
<rect x="228.7" y="665.9" width="2" height="13.7" fill="#284a8c"/>
<rect x="231.2" y="670" width="2" height="9.6" fill="#284a8c"/>
<rect x="233.7" y="670.8" width="2" height="8.8" fill="#284a8c"/>
<rect x="236.2" y="670.8" width="2" height="8.8" fill="#284a8c"/>
<rect x="238.7" y="675.3" width="2" height="4.3" fill="#284a8c"/>
<rect x="241.2" y="665.1" width="2" height="14.5" fill="#284a8c"/>
<rect x="243.7" y="678.3" width="2" height="1.3" fill="#284a8c"/>
<rect x="246.2" y="615" width="2" height="64.6" fill="#b5122e"/>
<rect x="248.7" y="668.3" width="2" height="11.3" fill="#284a8c"/>
<rect x="251.2" y="674.9" width="2" height="4.7" fill="#284a8c"/>
<line x1="169.6" y1="643.5" x2="256.6" y2="643.5" stroke="#efb7ac" stroke-width="1.4"/>
<line x1="169.6" y1="670.6" x2="256.6" y2="670.6" stroke="#231f20" stroke-width="1.2" stroke-dasharray="2.8 1.8"/>
<line x1="169.6" y1="612.3" x2="169.6" y2="683" stroke="#231f20" stroke-width="1.4"/>
<line x1="168.9" y1="682.4" x2="256.6" y2="682.4" stroke="#231f20" stroke-width="1.4"/>
<line x1="166.8" y1="619" x2="169.6" y2="619" stroke="#231f20" stroke-width="1.2"/>
<text x="163.6" y="621.27" font-size="6.6" text-anchor="end" textLength="17" lengthAdjust="spacingAndGlyphs">30000</text>
<line x1="166.8" y1="639.2" x2="169.6" y2="639.2" stroke="#231f20" stroke-width="1.2"/>
<text x="163.6" y="641.47" font-size="6.6" text-anchor="end" textLength="17" lengthAdjust="spacingAndGlyphs">20000</text>
<line x1="166.8" y1="659.4" x2="169.6" y2="659.4" stroke="#231f20" stroke-width="1.2"/>
<text x="163.6" y="661.67" font-size="6.6" text-anchor="end" textLength="17" lengthAdjust="spacingAndGlyphs">10000</text>
<line x1="166.8" y1="679.5" x2="169.6" y2="679.5" stroke="#231f20" stroke-width="1.2"/>
<text x="163.6" y="681.77" font-size="6.6" text-anchor="end" textLength="3.5" lengthAdjust="spacingAndGlyphs">0</text>
<line x1="172.3" y1="682.4" x2="172.3" y2="685" stroke="#231f20" stroke-width="1.1"/>
<line x1="197.1" y1="682.4" x2="197.1" y2="685" stroke="#231f20" stroke-width="1.1"/>
<line x1="221.9" y1="682.4" x2="221.9" y2="685" stroke="#231f20" stroke-width="1.1"/>
<line x1="246.7" y1="682.4" x2="246.7" y2="685" stroke="#231f20" stroke-width="1.1"/>
</g>
<text x="96.7" y="415.95" font-size="9.3" text-anchor="middle" textLength="16.5" lengthAdjust="spacingAndGlyphs" font-style="italic">ERG</text>
<text x="213.6" y="415.95" font-size="9.3" text-anchor="middle" textLength="17" lengthAdjust="spacingAndGlyphs" font-style="italic">GFI1</text>
<text x="96.7" y="511.6" font-size="9.3" text-anchor="middle" textLength="36.3" lengthAdjust="spacingAndGlyphs" font-style="italic">RUNX1T1</text>
<text x="213.6" y="511.7" font-size="9.3" text-anchor="middle" textLength="20.8" lengthAdjust="spacingAndGlyphs" font-style="italic">ETO2</text>
<text x="97.5" y="606.6" font-size="9.3" text-anchor="middle" textLength="26.4" lengthAdjust="spacingAndGlyphs" font-style="italic">GATA3</text>
<text x="213.9" y="606.6" font-size="9.3" text-anchor="middle" textLength="12.1" lengthAdjust="spacingAndGlyphs" font-style="italic">SKI</text>
<text x="12" y="459.59" font-size="8.7" text-anchor="middle" textLength="70" lengthAdjust="spacingAndGlyphs" transform="rotate(-90 12 456.6)">Normalized read counts</text>
<text x="21.2" y="459.59" font-size="8.7" text-anchor="middle" textLength="22.3" lengthAdjust="spacingAndGlyphs" transform="rotate(-90 21.2 456.6)">(FPKM)</text>
<text x="12" y="554.99" font-size="8.7" text-anchor="middle" textLength="70" lengthAdjust="spacingAndGlyphs" transform="rotate(-90 12 552)">Normalized read counts</text>
<text x="21.2" y="554.99" font-size="8.7" text-anchor="middle" textLength="22.3" lengthAdjust="spacingAndGlyphs" transform="rotate(-90 21.2 552)">(FPKM)</text>
<text x="12" y="649.99" font-size="8.7" text-anchor="middle" textLength="70" lengthAdjust="spacingAndGlyphs" transform="rotate(-90 12 647)">Normalized read counts</text>
<text x="21.2" y="649.99" font-size="8.7" text-anchor="middle" textLength="22.3" lengthAdjust="spacingAndGlyphs" transform="rotate(-90 21.2 647)">(FPKM)</text>
<text x="8.3" y="415.4" font-size="11.6" font-weight="bold" fill="#000">F</text>
<rect x="316.7" y="435.4" width="6.1" height="5.83" fill="#2d4a89"/>
<rect x="335" y="440.92" width="6.1" height="5.83" fill="#2d4a89"/>
<rect x="335" y="446.45" width="6.1" height="5.83" fill="#e6a023"/>
<rect x="322.8" y="451.98" width="6.1" height="5.83" fill="#2d4a89"/>
<rect x="341.1" y="451.98" width="6.1" height="5.83" fill="#2d4a89"/>
<rect x="341.1" y="474.08" width="6.1" height="5.83" fill="#2d4a89"/>
<rect x="292.3" y="435.4" width="73.2" height="44.2" fill="none" stroke="#231f20" stroke-width="1.15"/>

<text x="297.1" y="432.4" font-size="5.1" fill="#231f20" transform="rotate(-90 297.1 432.4)">33</text>

<text x="303.2" y="432.4" font-size="5.1" fill="#231f20" transform="rotate(-90 303.2 432.4)">LG4</text>

<text x="309.3" y="432.4" font-size="5.1" fill="#231f20" transform="rotate(-90 309.3 432.4)">LG11</text>

<text x="315.4" y="432.4" font-size="5.1" fill="#231f20" transform="rotate(-90 315.4 432.4)">LG12</text>

<text x="321.5" y="432.4" font-size="5.1" fill="#231f20" transform="rotate(-90 321.5 432.4)">19</text>

<text x="327.6" y="432.4" font-size="5.1" fill="#231f20" transform="rotate(-90 327.6 432.4)">20</text>

<text x="333.7" y="432.4" font-size="5.1" fill="#231f20" transform="rotate(-90 333.7 432.4)">26</text>

<text x="339.8" y="432.4" font-size="5.1" fill="#231f20" transform="rotate(-90 339.8 432.4)">37</text>

<text x="345.9" y="432.4" font-size="5.1" fill="#231f20" transform="rotate(-90 345.9 432.4)">ES3</text>

<text x="352" y="432.4" font-size="5.1" fill="#231f20" transform="rotate(-90 352 432.4)">23</text>

<text x="358.1" y="432.4" font-size="5.1" fill="#231f20" transform="rotate(-90 358.1 432.4)">13</text>

<text x="364.2" y="432.4" font-size="5.1" fill="#231f20" transform="rotate(-90 364.2 432.4)">1</text>
<text x="328.9" y="415.43" font-size="8.8" text-anchor="middle" textLength="26.5" lengthAdjust="spacingAndGlyphs">Group 1</text>
<rect x="404.9" y="457.5" width="6.1" height="5.83" fill="#e6a023"/>
<rect x="411" y="463.02" width="6.1" height="5.83" fill="#2d4a89"/>
<rect x="374.4" y="435.4" width="67.1" height="44.2" fill="none" stroke="#231f20" stroke-width="1.15"/>

<text x="379.2" y="432.4" font-size="5.1" fill="#231f20" transform="rotate(-90 379.2 432.4)">LG13</text>

<text x="385.3" y="432.4" font-size="5.1" fill="#231f20" transform="rotate(-90 385.3 432.4)">LG10</text>

<text x="391.4" y="432.4" font-size="5.1" fill="#231f20" transform="rotate(-90 391.4 432.4)">LG8</text>

<text x="397.5" y="432.4" font-size="5.1" fill="#231f20" transform="rotate(-90 397.5 432.4)">24</text>

<text x="403.6" y="432.4" font-size="5.1" fill="#231f20" transform="rotate(-90 403.6 432.4)">4</text>

<text x="409.7" y="432.4" font-size="5.1" fill="#231f20" transform="rotate(-90 409.7 432.4)">17</text>

<text x="415.8" y="432.4" font-size="5.1" fill="#231f20" transform="rotate(-90 415.8 432.4)">16</text>

<text x="421.9" y="432.4" font-size="5.1" fill="#231f20" transform="rotate(-90 421.9 432.4)">38</text>

<text x="428" y="432.4" font-size="5.1" fill="#231f20" transform="rotate(-90 428 432.4)">36</text>

<text x="434.1" y="432.4" font-size="5.1" fill="#231f20" transform="rotate(-90 434.1 432.4)">30</text>

<text x="440.2" y="432.4" font-size="5.1" fill="#231f20" transform="rotate(-90 440.2 432.4)">ES2</text>
<text x="407.95" y="415.43" font-size="8.8" text-anchor="middle" textLength="26.5" lengthAdjust="spacingAndGlyphs">Group 2</text>
<rect x="450.5" y="468.55" width="6.1" height="5.83" fill="#2d4a89"/>
<rect x="450.5" y="474.08" width="6.1" height="5.83" fill="#2d4a89"/>
<rect x="462.7" y="468.55" width="6.1" height="5.83" fill="#2d4a89"/>
<rect x="493.2" y="474.08" width="6.1" height="5.83" fill="#2d4a89"/>
<rect x="450.5" y="435.4" width="61" height="44.2" fill="none" stroke="#231f20" stroke-width="1.15"/>

<text x="455.3" y="432.4" font-size="5.1" fill="#231f20" transform="rotate(-90 455.3 432.4)">ES1</text>

<text x="461.4" y="432.4" font-size="5.1" fill="#231f20" transform="rotate(-90 461.4 432.4)">LG9</text>

<text x="467.5" y="432.4" font-size="5.1" fill="#231f20" transform="rotate(-90 467.5 432.4)">25</text>

<text x="473.6" y="432.4" font-size="5.1" fill="#231f20" transform="rotate(-90 473.6 432.4)">27</text>

<text x="479.7" y="432.4" font-size="5.1" fill="#231f20" transform="rotate(-90 479.7 432.4)">22</text>

<text x="485.8" y="432.4" font-size="5.1" fill="#231f20" transform="rotate(-90 485.8 432.4)">31</text>

<text x="491.9" y="432.4" font-size="5.1" fill="#231f20" transform="rotate(-90 491.9 432.4)">2</text>

<text x="498" y="432.4" font-size="5.1" fill="#231f20" transform="rotate(-90 498 432.4)">34</text>

<text x="504.1" y="432.4" font-size="5.1" fill="#231f20" transform="rotate(-90 504.1 432.4)">28</text>

<text x="510.2" y="432.4" font-size="5.1" fill="#231f20" transform="rotate(-90 510.2 432.4)">18</text>
<text x="481" y="415.43" font-size="8.8" text-anchor="middle" textLength="26.5" lengthAdjust="spacingAndGlyphs">Group 3</text>
<text x="289.5" y="440.02" font-size="5.4" text-anchor="end" textLength="13.4" lengthAdjust="spacingAndGlyphs" font-style="italic" fill="#333">ETO2</text>
<text x="289.5" y="445.55" font-size="5.4" text-anchor="end" textLength="23.3" lengthAdjust="spacingAndGlyphs" font-style="italic" fill="#333">RUNX1T1</text>
<text x="289.5" y="451.07" font-size="5.4" text-anchor="end" textLength="9.8" lengthAdjust="spacingAndGlyphs" font-style="italic" fill="#333">EPO</text>
<text x="289.5" y="456.6" font-size="5.4" text-anchor="end" textLength="9.8" lengthAdjust="spacingAndGlyphs" font-style="italic" fill="#333">ERG</text>
<text x="289.5" y="462.12" font-size="5.4" text-anchor="end" textLength="16.1" lengthAdjust="spacingAndGlyphs" font-style="italic" fill="#333">GATA1</text>
<text x="289.5" y="467.65" font-size="5.4" text-anchor="end" textLength="11.9" lengthAdjust="spacingAndGlyphs" font-style="italic" fill="#333">GFI1</text>
<text x="289.5" y="473.17" font-size="5.4" text-anchor="end" textLength="7.8" lengthAdjust="spacingAndGlyphs" font-style="italic" fill="#333">SKI</text>
<text x="289.5" y="478.7" font-size="5.4" text-anchor="end" textLength="16.7" lengthAdjust="spacingAndGlyphs" font-style="italic" fill="#333">GATA3</text>
<rect x="308.1" y="483.1" width="5.7" height="5.4" fill="#2d4a89"/>
<text x="316.7" y="487.9" font-size="6.4" textLength="73.3" lengthAdjust="spacingAndGlyphs">Transcriptomic alterations</text>
<rect x="404.6" y="483.1" width="5.7" height="5.4" fill="#e6a023"/>
<text x="414" y="487.9" font-size="6.4" textLength="53.5" lengthAdjust="spacingAndGlyphs">Genetic alterations</text>
<text x="265.5" y="415.5" font-size="11.6" font-weight="bold" fill="#000">G</text>
<g>
<path d="M303.8,498.5 V509.5 H305.1 V520 H307.7 V531.2 H311.5 V542.3 H313.5 V553.4 H318.2 V565" fill="none" stroke="#c4172f" stroke-width="1.2"/>
<path d="M303.8,498.5 H304.6 V504 H306.0 V515 H307.8 V526.4 H321.2 V531.7 H333.1 V537.2 H339.7 V542.8 H346.5 V548 H381.3" fill="none" stroke="#2f4f94" stroke-width="1.2"/>
<line x1="350.6" y1="546.6" x2="350.6" y2="548.6" stroke="#2f4f94" stroke-width="0.7"/>
<line x1="377.5" y1="546.6" x2="377.5" y2="548.6" stroke="#2f4f94" stroke-width="0.7"/>
<line x1="381.3" y1="546.6" x2="381.3" y2="548.6" stroke="#2f4f94" stroke-width="0.7"/>
<line x1="303.7" y1="495.4" x2="303.7" y2="565.6" stroke="#231f20" stroke-width="1.3"/>
<line x1="303.1" y1="565" x2="407.4" y2="565" stroke="#231f20" stroke-width="1.3"/>
<line x1="300.9" y1="498.4" x2="303.7" y2="498.4" stroke="#231f20" stroke-width="1.1"/>
<text x="297.8" y="500.6" font-size="6.4" text-anchor="end" textLength="10.2" lengthAdjust="spacingAndGlyphs">100</text>
<line x1="300.9" y1="511.72" x2="303.7" y2="511.72" stroke="#231f20" stroke-width="1.1"/>
<text x="297.8" y="513.92" font-size="6.4" text-anchor="end" textLength="6.8" lengthAdjust="spacingAndGlyphs">80</text>
<line x1="300.9" y1="525.04" x2="303.7" y2="525.04" stroke="#231f20" stroke-width="1.1"/>
<text x="297.8" y="527.24" font-size="6.4" text-anchor="end" textLength="6.8" lengthAdjust="spacingAndGlyphs">60</text>
<line x1="300.9" y1="538.36" x2="303.7" y2="538.36" stroke="#231f20" stroke-width="1.1"/>
<text x="297.8" y="540.56" font-size="6.4" text-anchor="end" textLength="6.8" lengthAdjust="spacingAndGlyphs">40</text>
<line x1="300.9" y1="551.68" x2="303.7" y2="551.68" stroke="#231f20" stroke-width="1.1"/>
<text x="297.8" y="553.88" font-size="6.4" text-anchor="end" textLength="6.8" lengthAdjust="spacingAndGlyphs">20</text>
<line x1="300.9" y1="565" x2="303.7" y2="565" stroke="#231f20" stroke-width="1.1"/>
<text x="297.8" y="567.2" font-size="6.4" text-anchor="end" textLength="3.4" lengthAdjust="spacingAndGlyphs">0</text>
<line x1="303.7" y1="565" x2="303.7" y2="567.6" stroke="#231f20" stroke-width="1.1"/>
<text x="303.7" y="576.3" font-size="6.4" text-anchor="middle" textLength="3.4" lengthAdjust="spacingAndGlyphs">0</text>
<line x1="323.82" y1="565" x2="323.82" y2="567.6" stroke="#231f20" stroke-width="1.1"/>
<text x="323.82" y="576.3" font-size="6.4" text-anchor="middle" textLength="6.8" lengthAdjust="spacingAndGlyphs">20</text>
<line x1="343.94" y1="565" x2="343.94" y2="567.6" stroke="#231f20" stroke-width="1.1"/>
<text x="343.94" y="576.3" font-size="6.4" text-anchor="middle" textLength="6.8" lengthAdjust="spacingAndGlyphs">40</text>
<line x1="364.06" y1="565" x2="364.06" y2="567.6" stroke="#231f20" stroke-width="1.1"/>
<text x="364.06" y="576.3" font-size="6.4" text-anchor="middle" textLength="6.8" lengthAdjust="spacingAndGlyphs">60</text>
<line x1="384.18" y1="565" x2="384.18" y2="567.6" stroke="#231f20" stroke-width="1.1"/>
<text x="384.18" y="576.3" font-size="6.4" text-anchor="middle" textLength="6.8" lengthAdjust="spacingAndGlyphs">80</text>
<line x1="404.3" y1="565" x2="404.3" y2="567.6" stroke="#231f20" stroke-width="1.1"/>
<text x="404.3" y="576.3" font-size="6.4" text-anchor="middle" textLength="10.2" lengthAdjust="spacingAndGlyphs">100</text>
</g>
<text x="355.8" y="588.12" font-size="8.5" text-anchor="middle" textLength="22.2" lengthAdjust="spacingAndGlyphs">Months</text>
<text x="279.4" y="532.92" font-size="8.5" text-anchor="middle" textLength="33.8" lengthAdjust="spacingAndGlyphs" transform="rotate(-90 279.4 530)">Survival (%)</text>
<line x1="330" y1="499.5" x2="338.2" y2="499.5" stroke="#c4172f" stroke-width="1.2"/>
<line x1="334.1" y1="498.4" x2="334.1" y2="500.6" stroke="#c4172f" stroke-width="0.7"/>
<line x1="330" y1="509.3" x2="338.2" y2="509.3" stroke="#2f4f94" stroke-width="1.2"/>
<line x1="334.1" y1="508.2" x2="334.1" y2="510.4" stroke="#2f4f94" stroke-width="0.7"/>
<text x="341.2" y="501.04" font-size="6.5" textLength="75.8" lengthAdjust="spacingAndGlyphs">Erythroid factor alterations</text>
<text x="341.2" y="511.04" font-size="6.5" textLength="18.6" lengthAdjust="spacingAndGlyphs">Others</text>
<text x="387.7" y="555.77" font-size="6.6" textLength="27.3" lengthAdjust="spacingAndGlyphs">p=0.0575</text>
<text x="266.2" y="504.5" font-size="11.6" font-weight="bold" fill="#000">H</text>
<g>
<path d="M303.6,599.3 V606 H304.2 V611.4 H304.8 V616.8 H305.8 V620 H306.4 V625.5 H308.3 V629.8 H310.2 V635.2 H312.5 V638.9 H314.2 V642.2 H316.4 V649.2 H317.5 V662.4" fill="none" stroke="#c4172f" stroke-width="1.2"/>
<path d="M303.6,599.3 V605 H303.9 V608.2 H304.8 V610.3 H305.9 V613 H307 V614.1 H308.2 V616.3 H308.8 V620.6 H309.6 V624.4 H311.4 V625.5 H312.5 V626.5 H313.4 V629.2 H314.6 V631.9 H316.2 V633.5 H317.8 V635.2 H319.4 V636.8 H320.8 V638.7" fill="none" stroke="#1c1c2a" stroke-width="1.3"/>
<line x1="320.8" y1="638.7" x2="388" y2="638.7" stroke="#6b82b5" stroke-width="1.4"/>
<line x1="323" y1="637" x2="323" y2="638.8" stroke="#1c1c2a" stroke-width="0.8"/>
<line x1="329.2" y1="637" x2="329.2" y2="638.8" stroke="#1c1c2a" stroke-width="0.8"/>
<line x1="334.3" y1="637" x2="334.3" y2="638.8" stroke="#1c1c2a" stroke-width="0.8"/>
<line x1="340.4" y1="637" x2="340.4" y2="638.8" stroke="#1c1c2a" stroke-width="0.8"/>
<line x1="345.6" y1="637" x2="345.6" y2="638.8" stroke="#1c1c2a" stroke-width="0.8"/>
<line x1="347" y1="637" x2="347" y2="638.8" stroke="#1c1c2a" stroke-width="0.8"/>
<line x1="359.4" y1="637" x2="359.4" y2="638.8" stroke="#1c1c2a" stroke-width="0.8"/>
<line x1="388" y1="637" x2="388" y2="638.8" stroke="#1c1c2a" stroke-width="0.8"/>
<line x1="303.5" y1="593.4" x2="303.5" y2="663.2" stroke="#231f20" stroke-width="1.3"/>
<line x1="302.9" y1="662.6" x2="410" y2="662.6" stroke="#231f20" stroke-width="1.3"/>
<line x1="300.7" y1="599.5" x2="303.5" y2="599.5" stroke="#231f20" stroke-width="1.1"/>
<text x="297.6" y="601.7" font-size="6.4" text-anchor="end" textLength="10.2" lengthAdjust="spacingAndGlyphs">100</text>
<line x1="300.7" y1="631" x2="303.5" y2="631" stroke="#231f20" stroke-width="1.1"/>
<text x="297.6" y="633.2" font-size="6.4" text-anchor="end" textLength="6.8" lengthAdjust="spacingAndGlyphs">50</text>
<line x1="300.7" y1="662.4" x2="303.5" y2="662.4" stroke="#231f20" stroke-width="1.1"/>
<text x="297.6" y="664.6" font-size="6.4" text-anchor="end" textLength="3.4" lengthAdjust="spacingAndGlyphs">0</text>
<line x1="303.5" y1="662.6" x2="303.5" y2="665.2" stroke="#231f20" stroke-width="1.1"/>
<text x="303.5" y="674" font-size="6.4" text-anchor="middle" textLength="3.4" lengthAdjust="spacingAndGlyphs">0</text>
<line x1="324.28" y1="662.6" x2="324.28" y2="665.2" stroke="#231f20" stroke-width="1.1"/>
<text x="324.28" y="674" font-size="6.4" text-anchor="middle" textLength="6.8" lengthAdjust="spacingAndGlyphs">50</text>
<line x1="345.06" y1="662.6" x2="345.06" y2="665.2" stroke="#231f20" stroke-width="1.1"/>
<text x="345.06" y="674" font-size="6.4" text-anchor="middle" textLength="10.2" lengthAdjust="spacingAndGlyphs">100</text>
<line x1="365.84" y1="662.6" x2="365.84" y2="665.2" stroke="#231f20" stroke-width="1.1"/>
<text x="365.84" y="674" font-size="6.4" text-anchor="middle" textLength="10.2" lengthAdjust="spacingAndGlyphs">150</text>
<line x1="386.62" y1="662.6" x2="386.62" y2="665.2" stroke="#231f20" stroke-width="1.1"/>
<text x="386.62" y="674" font-size="6.4" text-anchor="middle" textLength="10.2" lengthAdjust="spacingAndGlyphs">200</text>
<line x1="407.4" y1="662.6" x2="407.4" y2="665.2" stroke="#231f20" stroke-width="1.1"/>
<text x="407.4" y="674" font-size="6.4" text-anchor="middle" textLength="10.2" lengthAdjust="spacingAndGlyphs">250</text>
</g>
<text x="357" y="686.02" font-size="8.5" text-anchor="middle" textLength="22.2" lengthAdjust="spacingAndGlyphs">Months</text>
<text x="279.6" y="630.62" font-size="8.5" text-anchor="middle" textLength="33.8" lengthAdjust="spacingAndGlyphs" transform="rotate(-90 279.6 627.7)">Survival (%)</text>
<text x="380.2" y="654.57" font-size="6.6" textLength="28" lengthAdjust="spacingAndGlyphs">*p= 0.047</text>
<text x="268.6" y="602.6" font-size="11.6" font-weight="bold" fill="#000">I</text>
<rect x="0.5" y="0.5" width="519" height="694" fill="none" stroke="#000" stroke-width="1.2"/>
</svg>
</body></html>
